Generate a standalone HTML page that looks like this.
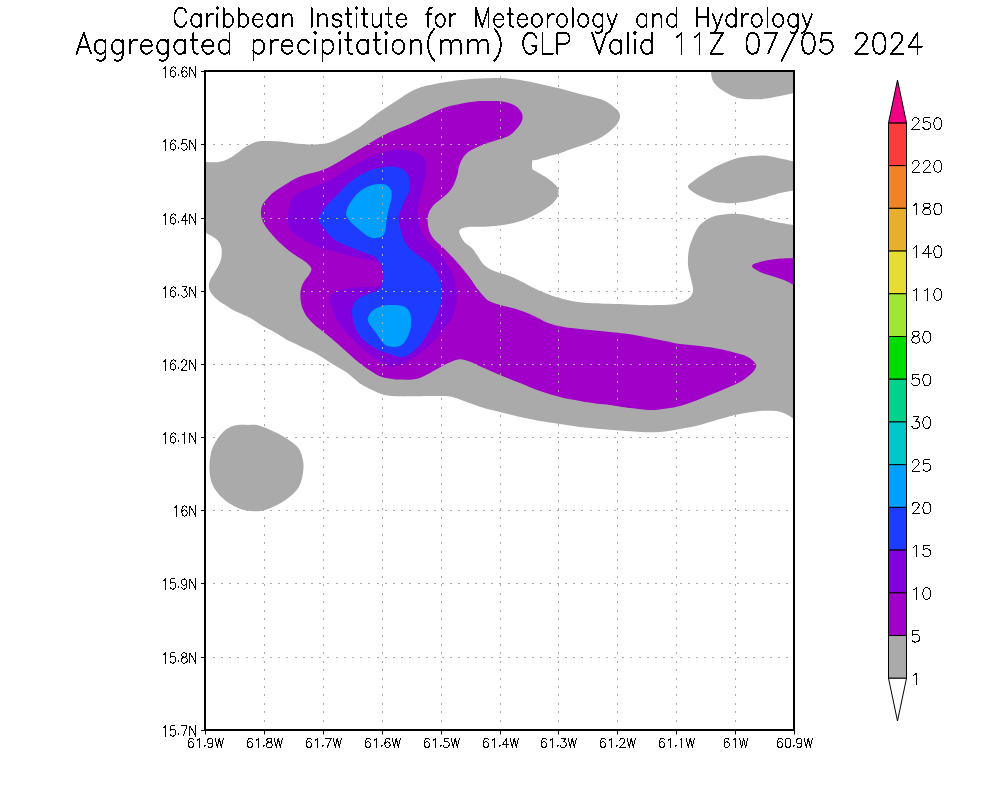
<!DOCTYPE html><html><head><meta charset="utf-8"><style>html,body{margin:0;padding:0;background:#fff;font-family:"Liberation Sans",sans-serif;}svg{display:block;}</style></head><body><svg width="1000" height="800" viewBox="0 0 1000 800">
<rect width="1000" height="800" fill="#fff"/>
<defs><clipPath id="pc"><rect x="205" y="71" width="589" height="659"/></clipPath></defs>
<g clip-path="url(#pc)">
<path d="M198.0,162.0 C198.0,162.0 200.5,162.0 204.0,162.0 C207.5,162.0 214.7,162.7 219.0,162.0 C223.3,161.3 226.5,159.8 230.0,158.0 C233.5,156.2 237.2,153.0 240.0,151.0 C242.8,149.0 244.5,147.4 247.0,146.0 C249.5,144.6 252.7,143.1 255.0,142.3 C257.3,141.5 258.5,141.3 261.0,141.1 C263.5,140.9 266.8,141.0 270.0,141.1 C273.2,141.2 276.7,141.2 280.0,141.5 C283.3,141.8 285.7,142.2 290.0,142.7 C294.3,143.2 301.1,144.1 305.8,144.3 C310.5,144.6 314.0,144.5 318.0,144.2 C322.0,143.9 326.0,143.6 330.0,142.4 C334.0,141.2 338.0,139.0 342.0,137.0 C346.0,135.0 351.0,132.1 354.0,130.4 C357.0,128.7 357.3,128.9 360.0,127.0 C362.7,125.1 366.7,121.6 370.0,119.0 C373.3,116.4 376.7,113.8 380.0,111.5 C383.3,109.2 386.7,107.2 390.0,105.0 C393.3,102.8 396.7,100.7 400.0,98.5 C403.3,96.3 406.7,93.8 410.0,92.0 C413.3,90.2 416.7,88.7 420.0,87.5 C423.3,86.3 426.7,85.8 430.0,85.0 C433.3,84.2 436.7,83.6 440.0,83.0 C443.3,82.4 446.7,82.0 450.0,81.5 C453.3,81.0 455.0,80.5 460.0,80.0 C465.0,79.5 473.3,78.7 480.0,78.4 C486.7,78.1 493.3,77.7 500.0,78.0 C506.7,78.3 513.3,79.0 520.0,80.0 C526.7,81.0 533.3,82.6 540.0,84.0 C546.7,85.4 553.3,86.9 560.0,88.6 C566.7,90.3 573.3,92.3 580.0,94.0 C586.7,95.7 595.0,97.3 600.0,99.0 C605.0,100.7 607.0,102.0 610.0,104.0 C613.0,106.0 616.3,108.8 618.0,111.0 C619.7,113.2 620.2,114.8 620.0,117.0 C619.8,119.2 618.7,121.7 617.0,124.0 C615.3,126.3 612.8,128.7 610.0,131.0 C607.2,133.3 604.2,135.8 600.0,138.0 C595.8,140.2 590.0,142.6 585.0,144.5 C580.0,146.4 574.3,147.9 570.0,149.4 C565.7,150.9 562.3,152.4 559.0,153.5 C555.7,154.6 552.8,155.1 550.0,155.8 C547.2,156.6 544.7,157.3 542.5,158.0 C540.3,158.7 538.7,159.4 537.0,159.8 C535.3,160.2 532.4,160.3 532.4,160.3 C532.4,160.3 532.0,163.4 532.0,165.0 C532.0,166.6 532.4,169.6 532.4,169.6 C532.4,169.6 536.5,171.7 538.8,173.0 C541.1,174.3 544.0,176.0 546.3,177.5 C548.5,179.0 550.5,180.4 552.3,182.0 C554.1,183.6 556.2,185.4 557.3,187.0 C558.3,188.6 558.6,189.8 558.6,191.5 C558.6,193.2 558.4,195.2 557.5,197.0 C556.6,198.8 555.1,200.8 553.5,202.5 C551.9,204.2 551.1,204.9 548.0,207.0 C544.9,209.1 539.8,212.6 535.0,215.0 C530.2,217.4 524.8,219.8 519.0,221.6 C513.2,223.4 505.8,224.8 500.0,225.6 C494.2,226.4 489.3,226.5 484.0,226.7 C478.7,226.9 472.0,226.5 468.0,227.0 C464.0,227.5 461.3,228.4 460.0,229.6 C458.7,230.8 459.2,232.3 460.0,234.4 C460.8,236.5 462.8,240.1 464.8,242.4 C466.8,244.7 469.6,245.4 472.0,248.0 C474.4,250.6 477.0,255.2 479.0,258.0 C481.0,260.8 481.5,262.8 484.0,265.0 C486.5,267.2 489.3,269.0 494.0,271.0 C498.7,273.0 506.3,274.7 512.0,277.0 C517.7,279.3 523.3,282.7 528.0,285.0 C532.7,287.3 535.3,289.0 540.0,291.0 C544.7,293.0 550.7,295.3 556.0,297.0 C561.3,298.7 566.7,300.0 572.0,301.0 C577.3,302.0 583.3,302.6 588.0,303.0 C592.7,303.4 594.7,303.2 600.0,303.4 C605.3,303.6 613.3,303.7 620.0,304.0 C626.7,304.3 633.3,304.8 640.0,305.0 C646.7,305.2 654.0,305.2 660.0,305.0 C666.0,304.8 671.3,305.0 676.0,304.0 C680.7,303.0 685.2,301.2 688.0,299.0 C690.8,296.8 692.5,294.3 693.0,291.0 C693.5,287.7 691.8,283.3 691.0,279.0 C690.2,274.7 688.3,270.0 688.0,265.0 C687.7,260.0 688.0,254.0 689.0,249.0 C690.0,244.0 692.2,239.0 694.0,235.0 C695.8,231.0 697.0,228.0 700.0,225.0 C703.0,222.0 707.3,218.8 712.0,217.0 C716.7,215.2 722.7,214.4 728.0,214.0 C733.3,213.6 738.7,213.9 744.0,214.6 C749.3,215.3 754.7,216.8 760.0,218.0 C765.3,219.2 770.3,220.8 776.0,222.0 C781.7,223.2 790.0,224.5 794.0,225.0 C798.0,225.5 800.0,225.0 800.0,225.0 L800.0,420.0 C800.0,420.0 796.3,420.0 794.0,419.0 C791.7,418.0 789.0,415.3 786.0,414.0 C783.0,412.7 780.3,411.5 776.0,411.0 C771.7,410.5 766.0,410.5 760.0,411.0 C754.0,411.5 746.7,412.7 740.0,414.0 C733.3,415.3 726.7,417.2 720.0,419.0 C713.3,420.8 706.7,423.3 700.0,425.0 C693.3,426.7 686.7,427.8 680.0,429.0 C673.3,430.2 666.7,431.5 660.0,432.0 C653.3,432.5 646.7,432.2 640.0,432.0 C633.3,431.8 626.7,431.1 620.0,430.6 C613.3,430.1 606.7,429.6 600.0,429.0 C593.3,428.4 586.7,427.8 580.0,427.0 C573.3,426.2 566.7,425.0 560.0,424.0 C553.3,423.0 546.7,422.2 540.0,421.0 C533.3,419.8 526.7,418.5 520.0,417.0 C513.3,415.5 506.0,413.5 500.0,412.0 C494.0,410.5 490.0,409.8 484.0,408.0 C478.0,406.2 469.7,402.9 464.0,401.0 C458.3,399.1 454.7,397.4 450.0,396.6 C445.3,395.8 442.7,396.1 436.0,396.0 C429.3,395.9 416.0,396.2 410.0,396.3 C404.0,396.4 404.0,396.5 400.0,396.3 C396.0,396.1 389.7,395.8 386.0,395.2 C382.3,394.6 382.0,394.5 378.0,392.8 C374.0,391.1 366.0,387.2 362.0,384.8 C358.0,382.4 356.7,380.5 354.0,378.4 C351.3,376.3 350.0,374.7 346.0,372.0 C342.0,369.3 335.3,365.6 330.0,362.4 C324.7,359.2 318.3,355.0 314.0,352.6 C309.7,350.2 307.0,349.4 304.0,348.0 C301.0,346.6 298.7,345.3 296.0,344.0 C293.3,342.7 290.7,341.8 288.0,340.4 C285.3,339.0 282.7,337.2 280.0,335.6 C277.3,334.0 274.7,332.3 272.0,330.8 C269.3,329.3 266.7,328.3 264.0,326.8 C261.3,325.3 258.7,323.3 256.0,321.6 C253.3,319.9 250.7,318.2 248.0,316.8 C245.3,315.4 242.7,314.4 240.0,313.2 C237.3,312.0 234.6,310.9 232.0,309.5 C229.4,308.1 227.1,306.4 224.4,304.6 C221.7,302.8 218.3,300.6 216.0,298.5 C213.7,296.4 211.7,294.1 210.5,292.0 C209.3,289.9 209.0,288.0 208.9,286.0 C208.8,284.0 209.3,282.2 210.2,280.0 C211.1,277.8 212.9,275.2 214.5,272.5 C216.1,269.8 218.3,266.2 219.5,263.5 C220.7,260.8 221.2,259.0 221.5,256.5 C221.8,254.0 222.0,251.0 221.5,248.5 C221.0,246.0 220.0,243.5 218.5,241.5 C217.0,239.5 214.9,238.0 212.5,236.5 C210.1,235.0 206.4,233.3 204.0,232.5 C201.6,231.7 198.0,231.9 198.0,231.9 L198.0,162.0Z" fill="#aaaaaa"/>
<path d="M711.0,65.0 C711.0,65.0 710.8,68.5 711.0,71.0 C711.2,73.5 711.3,77.3 712.5,80.0 C713.7,82.7 715.9,85.0 718.0,87.0 C720.1,89.0 722.2,90.3 725.0,92.0 C727.8,93.7 731.7,95.8 735.0,97.0 C738.3,98.2 740.8,98.6 745.0,99.0 C749.2,99.4 755.8,99.4 760.0,99.2 C764.2,99.0 766.7,98.5 770.0,98.0 C773.3,97.5 776.0,96.8 780.0,96.0 C784.0,95.2 790.7,93.7 794.0,93.0 C797.3,92.3 800.0,92.0 800.0,92.0 L800.0,65.0 L711.0,65.0Z" fill="#aaaaaa"/>
<path d="M688.0,187.0 C687.6,185.2 689.3,184.4 692.0,182.2 C694.7,180.0 700.0,176.4 704.0,173.8 C708.0,171.2 712.0,168.7 716.0,166.6 C720.0,164.5 724.0,162.7 728.0,161.2 C732.0,159.7 736.0,158.5 740.0,157.6 C744.0,156.7 748.0,156.3 752.0,156.0 C756.0,155.7 760.0,155.3 764.0,155.6 C768.0,155.9 771.0,156.6 776.0,157.6 C781.0,158.6 790.0,160.8 794.0,161.5 C798.0,162.2 800.0,162.0 800.0,162.0 L800.0,191.0 C800.0,191.0 798.0,190.1 794.0,190.6 C790.0,191.1 781.0,193.0 776.0,194.2 C771.0,195.4 768.0,196.7 764.0,197.8 C760.0,198.9 756.0,200.0 752.0,200.8 C748.0,201.6 744.0,202.0 740.0,202.4 C736.0,202.8 732.0,203.3 728.0,203.2 C724.0,203.1 720.0,202.9 716.0,202.0 C712.0,201.1 707.6,199.3 704.0,197.8 C700.4,196.3 697.1,194.8 694.4,193.0 C691.7,191.2 688.4,188.8 688.0,187.0Z" fill="#aaaaaa"/>
<path d="M236.0,425.3 C239.4,424.7 244.3,424.9 248.0,424.9 C251.7,424.9 254.5,424.5 258.0,425.2 C261.5,425.9 264.7,427.5 268.8,429.3 C272.9,431.1 277.9,433.2 282.5,436.0 C287.1,438.8 293.1,442.6 296.3,445.8 C299.5,449.0 300.6,451.5 301.8,455.4 C303.0,459.3 303.9,463.8 303.4,469.0 C302.9,474.2 302.0,481.6 299.0,486.8 C296.0,492.0 290.8,496.2 285.5,500.0 C280.2,503.8 272.8,507.4 267.5,509.3 C262.2,511.2 258.9,511.5 254.0,511.3 C249.1,511.1 243.2,510.2 238.0,508.0 C232.8,505.8 226.8,501.9 222.5,498.0 C218.2,494.1 214.6,489.4 212.4,484.5 C210.2,479.6 209.7,474.1 209.5,468.8 C209.3,463.6 210.1,457.3 211.0,453.0 C211.9,448.7 213.4,446.0 215.0,443.0 C216.6,440.0 218.5,437.2 220.6,434.8 C222.7,432.4 224.9,430.2 227.5,428.6 C230.1,427.0 232.6,425.9 236.0,425.3Z" fill="#aaaaaa"/>
<path d="M261.0,214.0 C260.8,211.3 261.2,208.3 262.0,206.0 C262.8,203.7 264.0,202.3 266.0,200.0 C268.0,197.7 270.3,194.8 274.0,192.0 C277.7,189.2 283.7,185.6 288.0,183.0 C292.3,180.4 296.0,178.3 300.0,176.6 C304.0,174.9 308.0,174.2 312.0,173.0 C316.0,171.8 320.0,171.0 324.0,169.4 C328.0,167.8 332.0,165.6 336.0,163.4 C340.0,161.2 344.0,158.6 348.0,156.2 C352.0,153.8 356.3,151.2 360.0,149.0 C363.7,146.8 366.7,145.0 370.0,143.0 C373.3,141.0 376.7,138.8 380.0,137.0 C383.3,135.2 386.7,133.5 390.0,132.0 C393.3,130.5 396.7,129.3 400.0,128.0 C403.3,126.7 406.7,125.5 410.0,124.0 C413.3,122.5 416.7,120.7 420.0,119.0 C423.3,117.3 426.7,115.6 430.0,114.0 C433.3,112.4 436.7,110.8 440.0,109.5 C443.3,108.2 446.7,106.9 450.0,106.0 C453.3,105.1 456.9,104.6 460.0,104.0 C463.1,103.4 465.8,102.8 468.7,102.3 C471.6,101.8 474.6,101.4 477.5,101.2 C480.4,101.0 482.6,101.0 486.2,101.0 C489.8,101.0 495.8,100.9 499.4,101.2 C503.0,101.5 505.3,101.9 508.1,102.7 C510.9,103.5 513.8,104.7 516.0,106.2 C518.2,107.7 520.1,110.1 521.2,111.9 C522.3,113.7 522.6,115.3 522.6,117.1 C522.6,118.8 522.2,120.5 521.2,122.4 C520.2,124.3 518.6,126.5 516.9,128.5 C515.1,130.5 512.9,133.0 510.7,134.6 C508.5,136.2 506.3,137.1 503.7,138.1 C501.1,139.1 497.9,139.8 495.0,140.7 C492.1,141.6 489.1,142.4 486.2,143.4 C483.3,144.4 480.1,145.7 477.5,146.9 C474.9,148.1 472.6,149.1 470.5,150.4 C468.4,151.7 466.7,153.1 465.2,154.7 C463.7,156.3 462.7,158.0 461.7,160.0 C460.7,162.0 459.8,163.8 459.0,166.5 C458.2,169.2 458.2,172.4 457.0,176.0 C455.8,179.6 454.2,184.6 452.0,188.0 C449.8,191.4 447.2,193.5 444.0,196.5 C440.8,199.5 435.5,202.8 432.8,206.0 C430.1,209.2 428.7,212.3 428.0,216.0 C427.3,219.7 427.7,224.3 428.5,228.0 C429.3,231.7 430.7,234.8 433.0,238.0 C435.3,241.2 439.2,243.9 442.4,247.0 C445.6,250.1 449.1,253.7 452.0,256.8 C454.9,259.9 457.7,262.9 460.0,265.6 C462.3,268.3 464.3,270.9 466.0,273.0 C467.7,275.1 468.3,275.7 470.0,278.0 C471.7,280.3 474.7,285.1 476.0,287.0 C477.3,288.9 476.5,287.8 478.0,289.6 C479.5,291.4 483.2,296.0 485.2,298.0 C487.2,300.0 487.5,300.4 490.0,301.6 C492.5,302.8 495.7,303.8 500.0,305.0 C504.3,306.2 510.7,307.3 516.0,309.0 C521.3,310.7 526.7,312.7 532.0,315.0 C537.3,317.3 542.7,321.0 548.0,323.0 C553.3,325.0 558.7,326.0 564.0,327.0 C569.3,328.0 574.0,328.3 580.0,329.0 C586.0,329.7 593.3,330.3 600.0,331.0 C606.7,331.7 613.3,332.2 620.0,333.0 C626.7,333.8 633.3,334.8 640.0,336.0 C646.7,337.2 653.3,338.7 660.0,340.0 C666.7,341.3 673.3,343.0 680.0,344.0 C686.7,345.0 693.3,345.2 700.0,346.0 C706.7,346.8 714.0,347.8 720.0,349.0 C726.0,350.2 731.3,351.7 736.0,353.0 C740.7,354.3 744.8,355.3 748.0,357.0 C751.2,358.7 753.7,361.3 755.0,363.0 C756.3,364.7 756.5,365.3 756.0,367.0 C755.5,368.7 754.7,370.5 752.0,373.0 C749.3,375.5 745.3,379.0 740.0,382.0 C734.7,385.0 726.7,388.2 720.0,391.0 C713.3,393.8 706.7,396.5 700.0,399.0 C693.3,401.5 686.7,404.3 680.0,406.0 C673.3,407.7 665.0,408.7 660.0,409.4 C655.0,410.1 655.0,410.2 650.0,410.0 C645.0,409.8 636.7,408.8 630.0,408.0 C623.3,407.2 615.0,405.7 610.0,405.0 C605.0,404.3 605.0,404.7 600.0,404.0 C595.0,403.3 586.7,402.2 580.0,401.0 C573.3,399.8 566.7,398.7 560.0,397.0 C553.3,395.3 546.7,393.3 540.0,391.0 C533.3,388.7 526.7,385.7 520.0,383.0 C513.3,380.3 506.0,377.5 500.0,375.0 C494.0,372.5 489.3,370.3 484.0,368.0 C478.7,365.7 472.3,362.4 468.0,361.0 C463.7,359.6 462.0,358.7 458.0,359.4 C454.0,360.1 448.7,362.7 444.0,365.0 C439.3,367.3 434.7,370.7 430.0,373.0 C425.3,375.3 421.0,377.9 416.0,379.0 C411.0,380.1 403.7,379.5 400.0,379.5 C396.3,379.5 397.1,379.6 394.0,379.2 C390.9,378.8 385.2,378.3 381.2,376.8 C377.2,375.3 373.7,372.8 370.0,370.4 C366.3,368.0 362.8,365.6 358.8,362.4 C354.8,359.2 350.6,355.3 346.0,351.2 C341.4,347.1 335.6,341.9 331.0,338.0 C326.4,334.1 321.6,330.6 318.4,328.0 C315.2,325.4 314.0,324.4 312.0,322.4 C310.0,320.4 308.0,318.4 306.4,316.0 C304.8,313.6 303.4,310.7 302.4,308.0 C301.4,305.3 300.9,302.8 300.6,300.0 C300.3,297.2 300.1,293.9 300.6,291.0 C301.1,288.1 302.0,285.3 303.5,282.5 C305.0,279.7 308.2,276.4 309.5,274.0 C310.8,271.6 311.9,270.1 311.2,268.0 C310.4,265.9 308.2,264.0 305.0,261.5 C301.8,259.0 296.3,256.2 292.0,253.0 C287.7,249.8 282.8,245.7 279.0,242.0 C275.2,238.3 271.7,234.3 269.0,231.0 C266.3,227.7 264.3,224.8 263.0,222.0 C261.7,219.2 261.2,216.7 261.0,214.0Z" fill="#a000c8"/>
<path d="M752.0,266.0 C752.0,264.3 756.0,263.2 760.0,262.0 C764.0,260.8 770.3,259.7 776.0,259.0 C781.7,258.3 790.0,258.2 794.0,258.0 C798.0,257.8 800.0,258.0 800.0,258.0 L800.0,287.0 C800.0,287.0 796.7,286.2 794.0,285.0 C791.3,283.8 787.7,281.5 784.0,280.0 C780.3,278.5 776.0,277.3 772.0,276.0 C768.0,274.7 763.3,273.7 760.0,272.0 C756.7,270.3 752.0,267.7 752.0,266.0Z" fill="#a000c8"/>
<path d="M288.0,214.0 C288.5,210.0 289.0,203.7 291.0,200.0 C293.0,196.3 295.8,194.3 300.0,192.0 C304.2,189.7 310.7,188.2 316.0,186.0 C321.3,183.8 326.7,181.8 332.0,179.0 C337.3,176.2 342.7,172.2 348.0,169.0 C353.3,165.8 358.7,162.6 364.0,160.0 C369.3,157.4 374.7,155.2 380.0,153.5 C385.3,151.8 390.7,149.8 396.0,149.5 C401.3,149.2 407.5,150.2 412.0,151.4 C416.5,152.7 420.8,154.5 423.2,157.0 C425.6,159.5 426.1,162.9 426.4,166.6 C426.7,170.3 425.6,175.1 424.8,179.4 C424.0,183.7 422.7,187.9 421.6,192.2 C420.5,196.5 418.9,200.7 418.4,205.0 C417.9,209.3 417.9,213.3 418.4,217.8 C418.9,222.3 419.7,227.6 421.6,232.0 C423.5,236.4 427.0,240.4 430.0,244.0 C433.0,247.6 436.6,250.0 439.6,253.6 C442.6,257.2 445.6,261.6 448.0,265.6 C450.4,269.6 452.6,273.2 454.0,277.6 C455.4,282.0 456.1,287.4 456.4,292.0 C456.7,296.6 456.7,300.7 456.0,305.0 C455.3,309.3 454.0,314.2 452.0,318.0 C450.0,321.8 447.0,324.2 444.0,328.0 C441.0,331.8 438.0,336.8 434.0,341.0 C430.0,345.2 424.0,349.8 420.0,353.0 C416.0,356.2 413.3,358.0 410.0,360.0 C406.7,362.0 403.5,364.0 400.0,365.0 C396.5,366.0 393.2,367.2 389.0,366.0 C384.8,364.8 379.5,361.0 375.0,358.0 C370.5,355.0 366.8,352.3 362.0,348.0 C357.2,343.7 350.5,337.3 346.0,332.0 C341.5,326.7 337.7,321.3 335.0,316.0 C332.3,310.7 330.2,304.0 330.0,300.0 C329.8,296.0 330.7,294.0 334.0,292.0 C337.3,290.0 345.0,288.8 350.0,288.0 C355.0,287.2 358.8,287.5 364.0,287.0 C369.2,286.5 377.7,287.8 381.0,285.0 C384.3,282.2 384.5,273.8 384.0,270.0 C383.5,266.2 381.3,263.8 378.0,262.0 C374.7,260.2 370.3,260.5 364.0,259.0 C357.7,257.5 347.7,255.0 340.0,253.0 C332.3,251.0 324.0,249.2 318.0,247.0 C312.0,244.8 308.3,242.5 304.0,240.0 C299.7,237.5 294.7,234.7 292.0,232.0 C289.3,229.3 288.7,227.0 288.0,224.0 C287.3,221.0 287.5,218.0 288.0,214.0Z" fill="#8200dc"/>
<path d="M319.0,218.0 C320.0,215.4 322.6,210.4 325.6,206.6 C328.6,202.8 332.5,199.7 336.8,195.4 C341.1,191.1 346.1,185.0 351.2,181.0 C356.3,177.0 362.1,173.7 367.2,171.4 C372.3,169.1 376.8,168.2 381.6,167.4 C386.4,166.7 392.0,166.2 396.0,166.9 C400.0,167.6 403.3,169.1 405.6,171.4 C407.9,173.8 409.1,177.5 409.6,181.0 C410.1,184.5 409.7,188.7 408.8,192.2 C407.9,195.7 405.6,198.1 404.0,201.8 C402.4,205.5 400.1,211.6 399.2,214.6 C398.3,217.6 398.5,217.1 398.8,220.0 C399.1,222.9 400.0,228.0 401.2,232.0 C402.4,236.0 403.6,240.4 406.0,244.0 C408.4,247.6 412.0,250.6 415.6,253.6 C419.2,256.6 424.2,259.0 427.6,262.0 C431.0,265.0 433.8,268.2 436.0,271.6 C438.2,275.0 439.8,279.0 440.8,282.4 C441.8,285.8 442.0,288.4 442.0,292.0 C442.0,295.6 441.4,300.7 440.8,304.0 C440.2,307.3 440.2,307.8 438.4,312.0 C436.6,316.2 433.1,323.5 430.0,329.0 C426.9,334.5 423.7,340.7 420.0,345.0 C416.3,349.3 411.3,353.0 408.0,355.0 C404.7,357.0 402.3,357.0 400.0,357.0 C397.7,357.0 397.7,356.4 394.0,355.2 C390.3,354.0 383.3,352.4 378.0,349.6 C372.7,346.8 366.0,342.7 362.0,338.4 C358.0,334.1 355.6,329.1 354.0,324.0 C352.4,318.9 351.7,312.2 352.4,308.0 C353.1,303.8 355.1,301.5 358.0,299.0 C360.9,296.5 367.0,294.5 370.0,293.2 C373.0,291.9 374.2,292.0 376.0,291.0 C377.8,290.0 379.6,289.4 380.8,287.2 C382.0,285.0 383.0,280.8 383.2,277.6 C383.4,274.4 383.0,271.2 382.0,268.0 C381.0,264.8 379.2,260.6 377.2,258.4 C375.2,256.2 374.5,256.7 370.0,254.8 C365.5,252.9 355.8,249.4 350.0,247.0 C344.2,244.6 339.3,242.9 335.2,240.2 C331.1,237.5 328.2,233.6 325.6,230.6 C323.0,227.6 320.6,224.1 319.5,222.0 C318.4,219.9 318.0,220.6 319.0,218.0Z" fill="#1e3cff"/>
<path d="M346.0,213.0 C346.2,210.2 348.0,206.3 350.0,203.0 C352.0,199.7 355.0,195.8 358.0,193.0 C361.0,190.2 364.7,188.0 368.0,186.5 C371.3,185.0 375.0,184.2 378.0,184.0 C381.0,183.8 383.8,184.0 386.0,185.0 C388.2,186.0 390.1,187.8 391.0,190.0 C391.9,192.2 391.8,195.0 391.5,198.0 C391.2,201.0 389.8,204.3 389.0,208.0 C388.2,211.7 387.1,216.3 386.5,220.0 C385.9,223.7 386.2,227.2 385.5,230.0 C384.8,232.8 384.2,235.2 382.0,236.5 C379.8,237.8 375.0,238.5 372.0,238.0 C369.0,237.5 366.8,235.5 364.0,233.5 C361.2,231.5 357.6,228.3 355.0,226.0 C352.4,223.7 350.0,221.7 348.5,219.5 C347.0,217.3 345.8,215.8 346.0,213.0Z" fill="#00a0ff"/>
<path d="M368.2,317.0 C368.7,315.6 369.7,313.4 371.0,312.0 C372.3,310.6 373.8,309.6 376.0,308.5 C378.2,307.4 381.3,306.2 384.0,305.6 C386.7,305.0 389.3,305.0 392.0,305.0 C394.7,305.0 397.7,305.0 400.0,305.4 C402.3,305.8 404.3,306.2 406.0,307.5 C407.7,308.8 409.2,310.9 410.0,313.0 C410.8,315.1 411.0,317.0 411.0,320.0 C411.0,323.0 411.2,327.2 410.0,331.0 C408.8,334.8 406.2,340.4 404.0,343.0 C401.8,345.6 399.3,346.2 397.0,346.8 C394.7,347.4 392.2,347.0 390.0,346.5 C387.8,346.0 386.3,346.2 384.0,344.0 C381.7,341.8 378.3,336.2 376.0,333.0 C373.7,329.8 371.4,327.1 370.0,325.0 C368.6,322.9 368.1,321.8 367.8,320.5 C367.5,319.2 367.7,318.4 368.2,317.0Z" fill="#00a0ff"/>
</g>
<path d="M213 144.5h2M221 144.5h2M229 144.5h2M237 144.5h2M246 144.5h2M254 144.5h2M262 144.5h2M270 144.5h2M278 144.5h2M286 144.5h2M295 144.5h2M303 144.5h2M311 144.5h2M319 144.5h2M327 144.5h2M336 144.5h2M344 144.5h2M352 144.5h2M360 144.5h2M368 144.5h2M377 144.5h2M385 144.5h2M393 144.5h2M401 144.5h2M409 144.5h2M418 144.5h2M426 144.5h2M434 144.5h2M442 144.5h2M450 144.5h2M458 144.5h2M467 144.5h2M475 144.5h2M483 144.5h2M491 144.5h2M499 144.5h2M508 144.5h2M516 144.5h2M524 144.5h2M532 144.5h2M540 144.5h2M549 144.5h2M557 144.5h2M565 144.5h2M573 144.5h2M581 144.5h2M590 144.5h2M598 144.5h2M606 144.5h2M614 144.5h2M622 144.5h2M630 144.5h2M639 144.5h2M647 144.5h2M655 144.5h2M663 144.5h2M671 144.5h2M680 144.5h2M688 144.5h2M696 144.5h2M704 144.5h2M712 144.5h2M721 144.5h2M729 144.5h2M737 144.5h2M745 144.5h2M753 144.5h2M762 144.5h2M770 144.5h2M778 144.5h2M786 144.5h2M213 218.5h2M221 218.5h2M229 218.5h2M237 218.5h2M246 218.5h2M254 218.5h2M262 218.5h2M270 218.5h2M278 218.5h2M286 218.5h2M295 218.5h2M303 218.5h2M311 218.5h2M319 218.5h2M327 218.5h2M336 218.5h2M344 218.5h2M352 218.5h2M360 218.5h2M368 218.5h2M377 218.5h2M385 218.5h2M393 218.5h2M401 218.5h2M409 218.5h2M418 218.5h2M426 218.5h2M434 218.5h2M442 218.5h2M450 218.5h2M458 218.5h2M467 218.5h2M475 218.5h2M483 218.5h2M491 218.5h2M499 218.5h2M508 218.5h2M516 218.5h2M524 218.5h2M532 218.5h2M540 218.5h2M549 218.5h2M557 218.5h2M565 218.5h2M573 218.5h2M581 218.5h2M590 218.5h2M598 218.5h2M606 218.5h2M614 218.5h2M622 218.5h2M630 218.5h2M639 218.5h2M647 218.5h2M655 218.5h2M663 218.5h2M671 218.5h2M680 218.5h2M688 218.5h2M696 218.5h2M704 218.5h2M712 218.5h2M721 218.5h2M729 218.5h2M737 218.5h2M745 218.5h2M753 218.5h2M762 218.5h2M770 218.5h2M778 218.5h2M786 218.5h2M213 291.5h2M221 291.5h2M229 291.5h2M237 291.5h2M246 291.5h2M254 291.5h2M262 291.5h2M270 291.5h2M278 291.5h2M286 291.5h2M295 291.5h2M303 291.5h2M311 291.5h2M319 291.5h2M327 291.5h2M336 291.5h2M344 291.5h2M352 291.5h2M360 291.5h2M368 291.5h2M377 291.5h2M385 291.5h2M393 291.5h2M401 291.5h2M409 291.5h2M418 291.5h2M426 291.5h2M434 291.5h2M442 291.5h2M450 291.5h2M458 291.5h2M467 291.5h2M475 291.5h2M483 291.5h2M491 291.5h2M499 291.5h2M508 291.5h2M516 291.5h2M524 291.5h2M532 291.5h2M540 291.5h2M549 291.5h2M557 291.5h2M565 291.5h2M573 291.5h2M581 291.5h2M590 291.5h2M598 291.5h2M606 291.5h2M614 291.5h2M622 291.5h2M630 291.5h2M639 291.5h2M647 291.5h2M655 291.5h2M663 291.5h2M671 291.5h2M680 291.5h2M688 291.5h2M696 291.5h2M704 291.5h2M712 291.5h2M721 291.5h2M729 291.5h2M737 291.5h2M745 291.5h2M753 291.5h2M762 291.5h2M770 291.5h2M778 291.5h2M786 291.5h2M213 364.5h2M221 364.5h2M229 364.5h2M237 364.5h2M246 364.5h2M254 364.5h2M262 364.5h2M270 364.5h2M278 364.5h2M286 364.5h2M295 364.5h2M303 364.5h2M311 364.5h2M319 364.5h2M327 364.5h2M336 364.5h2M344 364.5h2M352 364.5h2M360 364.5h2M368 364.5h2M377 364.5h2M385 364.5h2M393 364.5h2M401 364.5h2M409 364.5h2M418 364.5h2M426 364.5h2M434 364.5h2M442 364.5h2M450 364.5h2M458 364.5h2M467 364.5h2M475 364.5h2M483 364.5h2M491 364.5h2M499 364.5h2M508 364.5h2M516 364.5h2M524 364.5h2M532 364.5h2M540 364.5h2M549 364.5h2M557 364.5h2M565 364.5h2M573 364.5h2M581 364.5h2M590 364.5h2M598 364.5h2M606 364.5h2M614 364.5h2M622 364.5h2M630 364.5h2M639 364.5h2M647 364.5h2M655 364.5h2M663 364.5h2M671 364.5h2M680 364.5h2M688 364.5h2M696 364.5h2M704 364.5h2M712 364.5h2M721 364.5h2M729 364.5h2M737 364.5h2M745 364.5h2M753 364.5h2M762 364.5h2M770 364.5h2M778 364.5h2M786 364.5h2M213 437.5h2M221 437.5h2M229 437.5h2M237 437.5h2M246 437.5h2M254 437.5h2M262 437.5h2M270 437.5h2M278 437.5h2M286 437.5h2M295 437.5h2M303 437.5h2M311 437.5h2M319 437.5h2M327 437.5h2M336 437.5h2M344 437.5h2M352 437.5h2M360 437.5h2M368 437.5h2M377 437.5h2M385 437.5h2M393 437.5h2M401 437.5h2M409 437.5h2M418 437.5h2M426 437.5h2M434 437.5h2M442 437.5h2M450 437.5h2M458 437.5h2M467 437.5h2M475 437.5h2M483 437.5h2M491 437.5h2M499 437.5h2M508 437.5h2M516 437.5h2M524 437.5h2M532 437.5h2M540 437.5h2M549 437.5h2M557 437.5h2M565 437.5h2M573 437.5h2M581 437.5h2M590 437.5h2M598 437.5h2M606 437.5h2M614 437.5h2M622 437.5h2M630 437.5h2M639 437.5h2M647 437.5h2M655 437.5h2M663 437.5h2M671 437.5h2M680 437.5h2M688 437.5h2M696 437.5h2M704 437.5h2M712 437.5h2M721 437.5h2M729 437.5h2M737 437.5h2M745 437.5h2M753 437.5h2M762 437.5h2M770 437.5h2M778 437.5h2M786 437.5h2M213 510.5h2M221 510.5h2M229 510.5h2M237 510.5h2M246 510.5h2M254 510.5h2M262 510.5h2M270 510.5h2M278 510.5h2M286 510.5h2M295 510.5h2M303 510.5h2M311 510.5h2M319 510.5h2M327 510.5h2M336 510.5h2M344 510.5h2M352 510.5h2M360 510.5h2M368 510.5h2M377 510.5h2M385 510.5h2M393 510.5h2M401 510.5h2M409 510.5h2M418 510.5h2M426 510.5h2M434 510.5h2M442 510.5h2M450 510.5h2M458 510.5h2M467 510.5h2M475 510.5h2M483 510.5h2M491 510.5h2M499 510.5h2M508 510.5h2M516 510.5h2M524 510.5h2M532 510.5h2M540 510.5h2M549 510.5h2M557 510.5h2M565 510.5h2M573 510.5h2M581 510.5h2M590 510.5h2M598 510.5h2M606 510.5h2M614 510.5h2M622 510.5h2M630 510.5h2M639 510.5h2M647 510.5h2M655 510.5h2M663 510.5h2M671 510.5h2M680 510.5h2M688 510.5h2M696 510.5h2M704 510.5h2M712 510.5h2M721 510.5h2M729 510.5h2M737 510.5h2M745 510.5h2M753 510.5h2M762 510.5h2M770 510.5h2M778 510.5h2M786 510.5h2M213 583.5h2M221 583.5h2M229 583.5h2M237 583.5h2M246 583.5h2M254 583.5h2M262 583.5h2M270 583.5h2M278 583.5h2M286 583.5h2M295 583.5h2M303 583.5h2M311 583.5h2M319 583.5h2M327 583.5h2M336 583.5h2M344 583.5h2M352 583.5h2M360 583.5h2M368 583.5h2M377 583.5h2M385 583.5h2M393 583.5h2M401 583.5h2M409 583.5h2M418 583.5h2M426 583.5h2M434 583.5h2M442 583.5h2M450 583.5h2M458 583.5h2M467 583.5h2M475 583.5h2M483 583.5h2M491 583.5h2M499 583.5h2M508 583.5h2M516 583.5h2M524 583.5h2M532 583.5h2M540 583.5h2M549 583.5h2M557 583.5h2M565 583.5h2M573 583.5h2M581 583.5h2M590 583.5h2M598 583.5h2M606 583.5h2M614 583.5h2M622 583.5h2M630 583.5h2M639 583.5h2M647 583.5h2M655 583.5h2M663 583.5h2M671 583.5h2M680 583.5h2M688 583.5h2M696 583.5h2M704 583.5h2M712 583.5h2M721 583.5h2M729 583.5h2M737 583.5h2M745 583.5h2M753 583.5h2M762 583.5h2M770 583.5h2M778 583.5h2M786 583.5h2M213 657.5h2M221 657.5h2M229 657.5h2M237 657.5h2M246 657.5h2M254 657.5h2M262 657.5h2M270 657.5h2M278 657.5h2M286 657.5h2M295 657.5h2M303 657.5h2M311 657.5h2M319 657.5h2M327 657.5h2M336 657.5h2M344 657.5h2M352 657.5h2M360 657.5h2M368 657.5h2M377 657.5h2M385 657.5h2M393 657.5h2M401 657.5h2M409 657.5h2M418 657.5h2M426 657.5h2M434 657.5h2M442 657.5h2M450 657.5h2M458 657.5h2M467 657.5h2M475 657.5h2M483 657.5h2M491 657.5h2M499 657.5h2M508 657.5h2M516 657.5h2M524 657.5h2M532 657.5h2M540 657.5h2M549 657.5h2M557 657.5h2M565 657.5h2M573 657.5h2M581 657.5h2M590 657.5h2M598 657.5h2M606 657.5h2M614 657.5h2M622 657.5h2M630 657.5h2M639 657.5h2M647 657.5h2M655 657.5h2M663 657.5h2M671 657.5h2M680 657.5h2M688 657.5h2M696 657.5h2M704 657.5h2M712 657.5h2M721 657.5h2M729 657.5h2M737 657.5h2M745 657.5h2M753 657.5h2M762 657.5h2M770 657.5h2M778 657.5h2M786 657.5h2M264.5 76v2M264.5 85v2M264.5 93v2M264.5 102v2M264.5 110v2M264.5 119v2M264.5 127v2M264.5 136v2M264.5 144v2M264.5 153v2M264.5 161v2M264.5 170v2M264.5 178v2M264.5 187v2M264.5 195v2M264.5 203v2M264.5 212v2M264.5 220v2M264.5 229v2M264.5 237v2M264.5 246v2M264.5 254v2M264.5 263v2M264.5 271v2M264.5 280v2M264.5 288v2M264.5 297v2M264.5 305v2M264.5 314v2M264.5 322v2M264.5 330v2M264.5 339v2M264.5 347v2M264.5 356v2M264.5 364v2M264.5 373v2M264.5 381v2M264.5 390v2M264.5 398v2M264.5 407v2M264.5 415v2M264.5 424v2M264.5 432v2M264.5 441v2M264.5 449v2M264.5 457v2M264.5 466v2M264.5 474v2M264.5 483v2M264.5 491v2M264.5 500v2M264.5 508v2M264.5 517v2M264.5 525v2M264.5 534v2M264.5 542v2M264.5 551v2M264.5 559v2M264.5 567v2M264.5 576v2M264.5 584v2M264.5 593v2M264.5 601v2M264.5 610v2M264.5 618v2M264.5 627v2M264.5 635v2M264.5 644v2M264.5 652v2M264.5 661v2M264.5 669v2M264.5 678v2M264.5 686v2M264.5 694v2M264.5 703v2M264.5 711v2M264.5 720v2M323.5 76v2M323.5 85v2M323.5 93v2M323.5 102v2M323.5 110v2M323.5 119v2M323.5 127v2M323.5 136v2M323.5 144v2M323.5 153v2M323.5 161v2M323.5 170v2M323.5 178v2M323.5 187v2M323.5 195v2M323.5 203v2M323.5 212v2M323.5 220v2M323.5 229v2M323.5 237v2M323.5 246v2M323.5 254v2M323.5 263v2M323.5 271v2M323.5 280v2M323.5 288v2M323.5 297v2M323.5 305v2M323.5 314v2M323.5 322v2M323.5 330v2M323.5 339v2M323.5 347v2M323.5 356v2M323.5 364v2M323.5 373v2M323.5 381v2M323.5 390v2M323.5 398v2M323.5 407v2M323.5 415v2M323.5 424v2M323.5 432v2M323.5 441v2M323.5 449v2M323.5 457v2M323.5 466v2M323.5 474v2M323.5 483v2M323.5 491v2M323.5 500v2M323.5 508v2M323.5 517v2M323.5 525v2M323.5 534v2M323.5 542v2M323.5 551v2M323.5 559v2M323.5 567v2M323.5 576v2M323.5 584v2M323.5 593v2M323.5 601v2M323.5 610v2M323.5 618v2M323.5 627v2M323.5 635v2M323.5 644v2M323.5 652v2M323.5 661v2M323.5 669v2M323.5 678v2M323.5 686v2M323.5 694v2M323.5 703v2M323.5 711v2M323.5 720v2M382.5 76v2M382.5 85v2M382.5 93v2M382.5 102v2M382.5 110v2M382.5 119v2M382.5 127v2M382.5 136v2M382.5 144v2M382.5 153v2M382.5 161v2M382.5 170v2M382.5 178v2M382.5 187v2M382.5 195v2M382.5 203v2M382.5 212v2M382.5 220v2M382.5 229v2M382.5 237v2M382.5 246v2M382.5 254v2M382.5 263v2M382.5 271v2M382.5 280v2M382.5 288v2M382.5 297v2M382.5 305v2M382.5 314v2M382.5 322v2M382.5 330v2M382.5 339v2M382.5 347v2M382.5 356v2M382.5 364v2M382.5 373v2M382.5 381v2M382.5 390v2M382.5 398v2M382.5 407v2M382.5 415v2M382.5 424v2M382.5 432v2M382.5 441v2M382.5 449v2M382.5 457v2M382.5 466v2M382.5 474v2M382.5 483v2M382.5 491v2M382.5 500v2M382.5 508v2M382.5 517v2M382.5 525v2M382.5 534v2M382.5 542v2M382.5 551v2M382.5 559v2M382.5 567v2M382.5 576v2M382.5 584v2M382.5 593v2M382.5 601v2M382.5 610v2M382.5 618v2M382.5 627v2M382.5 635v2M382.5 644v2M382.5 652v2M382.5 661v2M382.5 669v2M382.5 678v2M382.5 686v2M382.5 694v2M382.5 703v2M382.5 711v2M382.5 720v2M441.5 76v2M441.5 85v2M441.5 93v2M441.5 102v2M441.5 110v2M441.5 119v2M441.5 127v2M441.5 136v2M441.5 144v2M441.5 153v2M441.5 161v2M441.5 170v2M441.5 178v2M441.5 187v2M441.5 195v2M441.5 203v2M441.5 212v2M441.5 220v2M441.5 229v2M441.5 237v2M441.5 246v2M441.5 254v2M441.5 263v2M441.5 271v2M441.5 280v2M441.5 288v2M441.5 297v2M441.5 305v2M441.5 314v2M441.5 322v2M441.5 330v2M441.5 339v2M441.5 347v2M441.5 356v2M441.5 364v2M441.5 373v2M441.5 381v2M441.5 390v2M441.5 398v2M441.5 407v2M441.5 415v2M441.5 424v2M441.5 432v2M441.5 441v2M441.5 449v2M441.5 457v2M441.5 466v2M441.5 474v2M441.5 483v2M441.5 491v2M441.5 500v2M441.5 508v2M441.5 517v2M441.5 525v2M441.5 534v2M441.5 542v2M441.5 551v2M441.5 559v2M441.5 567v2M441.5 576v2M441.5 584v2M441.5 593v2M441.5 601v2M441.5 610v2M441.5 618v2M441.5 627v2M441.5 635v2M441.5 644v2M441.5 652v2M441.5 661v2M441.5 669v2M441.5 678v2M441.5 686v2M441.5 694v2M441.5 703v2M441.5 711v2M441.5 720v2M500.5 76v2M500.5 85v2M500.5 93v2M500.5 102v2M500.5 110v2M500.5 119v2M500.5 127v2M500.5 136v2M500.5 144v2M500.5 153v2M500.5 161v2M500.5 170v2M500.5 178v2M500.5 187v2M500.5 195v2M500.5 203v2M500.5 212v2M500.5 220v2M500.5 229v2M500.5 237v2M500.5 246v2M500.5 254v2M500.5 263v2M500.5 271v2M500.5 280v2M500.5 288v2M500.5 297v2M500.5 305v2M500.5 314v2M500.5 322v2M500.5 330v2M500.5 339v2M500.5 347v2M500.5 356v2M500.5 364v2M500.5 373v2M500.5 381v2M500.5 390v2M500.5 398v2M500.5 407v2M500.5 415v2M500.5 424v2M500.5 432v2M500.5 441v2M500.5 449v2M500.5 457v2M500.5 466v2M500.5 474v2M500.5 483v2M500.5 491v2M500.5 500v2M500.5 508v2M500.5 517v2M500.5 525v2M500.5 534v2M500.5 542v2M500.5 551v2M500.5 559v2M500.5 567v2M500.5 576v2M500.5 584v2M500.5 593v2M500.5 601v2M500.5 610v2M500.5 618v2M500.5 627v2M500.5 635v2M500.5 644v2M500.5 652v2M500.5 661v2M500.5 669v2M500.5 678v2M500.5 686v2M500.5 694v2M500.5 703v2M500.5 711v2M500.5 720v2M558.5 76v2M558.5 85v2M558.5 93v2M558.5 102v2M558.5 110v2M558.5 119v2M558.5 127v2M558.5 136v2M558.5 144v2M558.5 153v2M558.5 161v2M558.5 170v2M558.5 178v2M558.5 187v2M558.5 195v2M558.5 203v2M558.5 212v2M558.5 220v2M558.5 229v2M558.5 237v2M558.5 246v2M558.5 254v2M558.5 263v2M558.5 271v2M558.5 280v2M558.5 288v2M558.5 297v2M558.5 305v2M558.5 314v2M558.5 322v2M558.5 330v2M558.5 339v2M558.5 347v2M558.5 356v2M558.5 364v2M558.5 373v2M558.5 381v2M558.5 390v2M558.5 398v2M558.5 407v2M558.5 415v2M558.5 424v2M558.5 432v2M558.5 441v2M558.5 449v2M558.5 457v2M558.5 466v2M558.5 474v2M558.5 483v2M558.5 491v2M558.5 500v2M558.5 508v2M558.5 517v2M558.5 525v2M558.5 534v2M558.5 542v2M558.5 551v2M558.5 559v2M558.5 567v2M558.5 576v2M558.5 584v2M558.5 593v2M558.5 601v2M558.5 610v2M558.5 618v2M558.5 627v2M558.5 635v2M558.5 644v2M558.5 652v2M558.5 661v2M558.5 669v2M558.5 678v2M558.5 686v2M558.5 694v2M558.5 703v2M558.5 711v2M558.5 720v2M617.5 76v2M617.5 85v2M617.5 93v2M617.5 102v2M617.5 110v2M617.5 119v2M617.5 127v2M617.5 136v2M617.5 144v2M617.5 153v2M617.5 161v2M617.5 170v2M617.5 178v2M617.5 187v2M617.5 195v2M617.5 203v2M617.5 212v2M617.5 220v2M617.5 229v2M617.5 237v2M617.5 246v2M617.5 254v2M617.5 263v2M617.5 271v2M617.5 280v2M617.5 288v2M617.5 297v2M617.5 305v2M617.5 314v2M617.5 322v2M617.5 330v2M617.5 339v2M617.5 347v2M617.5 356v2M617.5 364v2M617.5 373v2M617.5 381v2M617.5 390v2M617.5 398v2M617.5 407v2M617.5 415v2M617.5 424v2M617.5 432v2M617.5 441v2M617.5 449v2M617.5 457v2M617.5 466v2M617.5 474v2M617.5 483v2M617.5 491v2M617.5 500v2M617.5 508v2M617.5 517v2M617.5 525v2M617.5 534v2M617.5 542v2M617.5 551v2M617.5 559v2M617.5 567v2M617.5 576v2M617.5 584v2M617.5 593v2M617.5 601v2M617.5 610v2M617.5 618v2M617.5 627v2M617.5 635v2M617.5 644v2M617.5 652v2M617.5 661v2M617.5 669v2M617.5 678v2M617.5 686v2M617.5 694v2M617.5 703v2M617.5 711v2M617.5 720v2M676.5 76v2M676.5 85v2M676.5 93v2M676.5 102v2M676.5 110v2M676.5 119v2M676.5 127v2M676.5 136v2M676.5 144v2M676.5 153v2M676.5 161v2M676.5 170v2M676.5 178v2M676.5 187v2M676.5 195v2M676.5 203v2M676.5 212v2M676.5 220v2M676.5 229v2M676.5 237v2M676.5 246v2M676.5 254v2M676.5 263v2M676.5 271v2M676.5 280v2M676.5 288v2M676.5 297v2M676.5 305v2M676.5 314v2M676.5 322v2M676.5 330v2M676.5 339v2M676.5 347v2M676.5 356v2M676.5 364v2M676.5 373v2M676.5 381v2M676.5 390v2M676.5 398v2M676.5 407v2M676.5 415v2M676.5 424v2M676.5 432v2M676.5 441v2M676.5 449v2M676.5 457v2M676.5 466v2M676.5 474v2M676.5 483v2M676.5 491v2M676.5 500v2M676.5 508v2M676.5 517v2M676.5 525v2M676.5 534v2M676.5 542v2M676.5 551v2M676.5 559v2M676.5 567v2M676.5 576v2M676.5 584v2M676.5 593v2M676.5 601v2M676.5 610v2M676.5 618v2M676.5 627v2M676.5 635v2M676.5 644v2M676.5 652v2M676.5 661v2M676.5 669v2M676.5 678v2M676.5 686v2M676.5 694v2M676.5 703v2M676.5 711v2M676.5 720v2M735.5 76v2M735.5 85v2M735.5 93v2M735.5 102v2M735.5 110v2M735.5 119v2M735.5 127v2M735.5 136v2M735.5 144v2M735.5 153v2M735.5 161v2M735.5 170v2M735.5 178v2M735.5 187v2M735.5 195v2M735.5 203v2M735.5 212v2M735.5 220v2M735.5 229v2M735.5 237v2M735.5 246v2M735.5 254v2M735.5 263v2M735.5 271v2M735.5 280v2M735.5 288v2M735.5 297v2M735.5 305v2M735.5 314v2M735.5 322v2M735.5 330v2M735.5 339v2M735.5 347v2M735.5 356v2M735.5 364v2M735.5 373v2M735.5 381v2M735.5 390v2M735.5 398v2M735.5 407v2M735.5 415v2M735.5 424v2M735.5 432v2M735.5 441v2M735.5 449v2M735.5 457v2M735.5 466v2M735.5 474v2M735.5 483v2M735.5 491v2M735.5 500v2M735.5 508v2M735.5 517v2M735.5 525v2M735.5 534v2M735.5 542v2M735.5 551v2M735.5 559v2M735.5 567v2M735.5 576v2M735.5 584v2M735.5 593v2M735.5 601v2M735.5 610v2M735.5 618v2M735.5 627v2M735.5 635v2M735.5 644v2M735.5 652v2M735.5 661v2M735.5 669v2M735.5 678v2M735.5 686v2M735.5 694v2M735.5 703v2M735.5 711v2M735.5 720v2" stroke="#aaaaaa" stroke-width="1" fill="none"/>
<rect x="205" y="71" width="589" height="659" fill="none" stroke="#000" stroke-width="2"/>
<path d="M205.5,730 V734.5 M264.5,730 V734.5 M323.5,730 V734.5 M382.5,730 V734.5 M441.5,730 V734.5 M500.5,730 V734.5 M558.5,730 V734.5 M617.5,730 V734.5 M676.5,730 V734.5 M735.5,730 V734.5 M794.5,730 V734.5 M205,71.5 H201 M205,144.5 H201 M205,218.5 H201 M205,291.5 H201 M205,364.5 H201 M205,437.5 H201 M205,510.5 H201 M205,583.5 H201 M205,657.5 H201 M205,730.5 H201" stroke="#000" stroke-width="1" fill="none"/>
<path d="M186.36,12.35 185.56,10.55 183.98,8.75 182.39,7.85 179.21,7.85 177.63,8.75 176.04,10.55 175.24,12.35 174.45,15.05 174.45,19.55 175.24,22.25 176.04,24.05 177.63,25.85 179.21,26.75 182.39,26.75 183.98,25.85 185.56,24.05 186.36,22.25M200.65,14.15 200.65,26.75M200.65,16.85 199.06,15.05 197.47,14.15 195.09,14.15 193.50,15.05 191.92,16.85 191.12,19.55 191.12,21.35 191.92,24.05 193.50,25.85 195.09,26.75 197.47,26.75 199.06,25.85 200.65,24.05M207.00,14.15 207.00,26.75M207.00,19.55 207.79,16.85 209.38,15.05 210.97,14.15 213.35,14.15M216.53,7.85 217.32,8.75 218.12,7.85 217.32,6.95 216.53,7.85M217.32,14.15 217.32,26.75M223.67,7.85 223.67,26.75M223.67,16.85 225.26,15.05 226.85,14.15 229.23,14.15 230.82,15.05 232.41,16.85 233.20,19.55 233.20,21.35 232.41,24.05 230.82,25.85 229.23,26.75 226.85,26.75 225.26,25.85 223.67,24.05M238.76,7.85 238.76,26.75M238.76,16.85 240.35,15.05 241.93,14.15 244.31,14.15 245.90,15.05 247.49,16.85 248.28,19.55 248.28,21.35 247.49,24.05 245.90,25.85 244.31,26.75 241.93,26.75 240.35,25.85 238.76,24.05M253.05,19.55 262.57,19.55 262.57,17.75 261.78,15.95 260.99,15.05 259.40,14.15 257.02,14.15 255.43,15.05 253.84,16.85 253.05,19.55 253.05,21.35 253.84,24.05 255.43,25.85 257.02,26.75 259.40,26.75 260.99,25.85 262.57,24.05M276.87,14.15 276.87,26.75M276.87,16.85 275.28,15.05 273.69,14.15 271.31,14.15 269.72,15.05 268.13,16.85 267.34,19.55 267.34,21.35 268.13,24.05 269.72,25.85 271.31,26.75 273.69,26.75 275.28,25.85 276.87,24.05M283.22,14.15 283.22,26.75M283.22,17.75 285.60,15.05 287.19,14.15 289.57,14.15 291.16,15.05 291.95,17.75 291.95,26.75M311.75,7.85 311.75,26.75M318.14,14.15 318.14,26.75M318.14,17.75 320.54,15.05 322.14,14.15 324.54,14.15 326.13,15.05 326.93,17.75 326.93,26.75M341.32,16.85 340.52,15.05 338.12,14.15 335.72,14.15 333.33,15.05 332.53,16.85 333.33,18.65 334.93,19.55 338.92,20.45 340.52,21.35 341.32,23.15 341.32,24.05 340.52,25.85 338.12,26.75 335.72,26.75 333.33,25.85 332.53,24.05M347.71,7.85 347.71,23.15 348.51,25.85 350.11,26.75 351.71,26.75M345.31,14.15 350.91,14.15M355.70,7.85 356.50,8.75 357.30,7.85 356.50,6.95 355.70,7.85M356.50,14.15 356.50,26.75M363.69,7.85 363.69,23.15 364.49,25.85 366.09,26.75 367.69,26.75M361.30,14.15 366.89,14.15M372.49,14.15 372.49,23.15 373.28,25.85 374.88,26.75 377.28,26.75 378.88,25.85 381.28,23.15M381.28,14.15 381.28,26.75M388.47,7.85 388.47,23.15 389.27,25.85 390.87,26.75 392.46,26.75M386.07,14.15 391.67,14.15M396.46,19.55 406.05,19.55 406.05,17.75 405.25,15.95 404.45,15.05 402.85,14.15 400.46,14.15 398.86,15.05 397.26,16.85 396.46,19.55 396.46,21.35 397.26,24.05 398.86,25.85 400.46,26.75 402.85,26.75 404.45,25.85 406.05,24.05M431.93,7.85 430.48,7.85 429.04,8.75 428.32,11.45 428.32,26.75M426.15,14.15 431.20,14.15M439.15,14.15 437.70,15.05 436.26,16.85 435.54,19.55 435.54,21.35 436.26,24.05 437.70,25.85 439.15,26.75 441.31,26.75 442.75,25.85 444.20,24.05 444.92,21.35 444.92,19.55 444.20,16.85 442.75,15.05 441.31,14.15 439.15,14.15M449.97,14.15 449.97,26.75M449.97,19.55 450.70,16.85 452.14,15.05 453.58,14.15 455.75,14.15M475.85,7.85 475.85,26.75M475.85,7.85 482.15,26.75M488.44,7.85 482.15,26.75M488.44,7.85 488.44,26.75M493.95,19.55 503.40,19.55 503.40,17.75 502.61,15.95 501.83,15.05 500.25,14.15 497.89,14.15 496.32,15.05 494.74,16.85 493.95,19.55 493.95,21.35 494.74,24.05 496.32,25.85 497.89,26.75 500.25,26.75 501.83,25.85 503.40,24.05M509.70,7.85 509.70,23.15 510.48,25.85 512.06,26.75 513.63,26.75M507.34,14.15 512.85,14.15M517.57,19.55 527.01,19.55 527.01,17.75 526.23,15.95 525.44,15.05 523.87,14.15 521.50,14.15 519.93,15.05 518.36,16.85 517.57,19.55 517.57,21.35 518.36,24.05 519.93,25.85 521.50,26.75 523.87,26.75 525.44,25.85 527.01,24.05M535.67,14.15 534.10,15.05 532.52,16.85 531.74,19.55 531.74,21.35 532.52,24.05 534.10,25.85 535.67,26.75 538.03,26.75 539.61,25.85 541.18,24.05 541.97,21.35 541.97,19.55 541.18,16.85 539.61,15.05 538.03,14.15 535.67,14.15M547.48,14.15 547.48,26.75M547.48,19.55 548.27,16.85 549.84,15.05 551.42,14.15 553.78,14.15M560.86,14.15 559.29,15.05 557.71,16.85 556.93,19.55 556.93,21.35 557.71,24.05 559.29,25.85 560.86,26.75 563.22,26.75 564.80,25.85 566.37,24.05 567.16,21.35 567.16,19.55 566.37,16.85 564.80,15.05 563.22,14.15 560.86,14.15M572.67,7.85 572.67,26.75M582.12,14.15 580.54,15.05 578.97,16.85 578.18,19.55 578.18,21.35 578.97,24.05 580.54,25.85 582.12,26.75 584.48,26.75 586.05,25.85 587.63,24.05 588.41,21.35 588.41,19.55 587.63,16.85 586.05,15.05 584.48,14.15 582.12,14.15M602.58,14.15 602.58,28.55 601.79,31.25 601.01,32.15 599.43,33.05 597.07,33.05 595.50,32.15M602.58,16.85 601.01,15.05 599.43,14.15 597.07,14.15 595.50,15.05 593.92,16.85 593.14,19.55 593.14,21.35 593.92,24.05 595.50,25.85 597.07,26.75 599.43,26.75 601.01,25.85 602.58,24.05M607.30,14.15 612.03,26.75M616.75,14.15 612.03,26.75 610.45,30.35 608.88,32.15 607.30,33.05 606.52,33.05M646.35,14.15 646.35,26.75M646.35,16.85 644.77,15.05 643.19,14.15 640.81,14.15 639.23,15.05 637.64,16.85 636.85,19.55 636.85,21.35 637.64,24.05 639.23,25.85 640.81,26.75 643.19,26.75 644.77,25.85 646.35,24.05M652.69,14.15 652.69,26.75M652.69,17.75 655.07,15.05 656.65,14.15 659.03,14.15 660.61,15.05 661.40,17.75 661.40,26.75M676.45,7.85 676.45,26.75M676.45,16.85 674.87,15.05 673.28,14.15 670.91,14.15 669.32,15.05 667.74,16.85 666.95,19.55 666.95,21.35 667.74,24.05 669.32,25.85 670.91,26.75 673.28,26.75 674.87,25.85 676.45,24.05M696.85,7.85 696.85,26.75M707.96,7.85 707.96,26.75M696.85,16.85 707.96,16.85M712.73,14.15 717.49,26.75M722.25,14.15 717.49,26.75 715.90,30.35 714.31,32.15 712.73,33.05 711.93,33.05M735.75,7.85 735.75,26.75M735.75,16.85 734.16,15.05 732.57,14.15 730.19,14.15 728.60,15.05 727.01,16.85 726.22,19.55 726.22,21.35 727.01,24.05 728.60,25.85 730.19,26.75 732.57,26.75 734.16,25.85 735.75,24.05M742.10,14.15 742.10,26.75M742.10,19.55 742.89,16.85 744.48,15.05 746.07,14.15 748.45,14.15M755.59,14.15 754.00,15.05 752.42,16.85 751.62,19.55 751.62,21.35 752.42,24.05 754.00,25.85 755.59,26.75 757.97,26.75 759.56,25.85 761.15,24.05 761.94,21.35 761.94,19.55 761.15,16.85 759.56,15.05 757.97,14.15 755.59,14.15M767.50,7.85 767.50,26.75M777.02,14.15 775.44,15.05 773.85,16.85 773.05,19.55 773.05,21.35 773.85,24.05 775.44,25.85 777.02,26.75 779.40,26.75 780.99,25.85 782.58,24.05 783.37,21.35 783.37,19.55 782.58,16.85 780.99,15.05 779.40,14.15 777.02,14.15M797.66,14.15 797.66,28.55 796.87,31.25 796.07,32.15 794.49,33.05 792.11,33.05 790.52,32.15M797.66,16.85 796.07,15.05 794.49,14.15 792.11,14.15 790.52,15.05 788.93,16.85 788.14,19.55 788.14,21.35 788.93,24.05 790.52,25.85 792.11,26.75 794.49,26.75 796.07,25.85 797.66,24.05M802.42,14.15 807.19,26.75M811.95,14.15 807.19,26.75 805.60,30.35 804.01,32.15 802.42,33.05 801.63,33.05" fill="none" stroke="#000" stroke-width="1.7" stroke-linecap="round" stroke-linejoin="round" shape-rendering="crispEdges"/>
<path d="M83.74,32.90 76.50,53.70M83.74,32.90 90.99,53.70M79.22,46.77 88.27,46.77M105.47,39.83 105.47,55.68 104.57,58.65 103.66,59.64 101.85,60.63 99.13,60.63 97.32,59.64M105.47,42.80 103.66,40.82 101.85,39.83 99.13,39.83 97.32,40.82 95.51,42.80 94.61,45.78 94.61,47.76 95.51,50.73 97.32,52.71 99.13,53.70 101.85,53.70 103.66,52.71 105.47,50.73M122.67,39.83 122.67,55.68 121.77,58.65 120.86,59.64 119.05,60.63 116.33,60.63 114.52,59.64M122.67,42.80 120.86,40.82 119.05,39.83 116.33,39.83 114.52,40.82 112.71,42.80 111.81,45.78 111.81,47.76 112.71,50.73 114.52,52.71 116.33,53.70 119.05,53.70 120.86,52.71 122.67,50.73M129.91,39.83 129.91,53.70M129.91,45.78 130.82,42.80 132.63,40.82 134.44,39.83 137.16,39.83M140.78,45.78 151.64,45.78 151.64,43.80 150.74,41.81 149.83,40.82 148.02,39.83 145.30,39.83 143.49,40.82 141.68,42.80 140.78,45.78 140.78,47.76 141.68,50.73 143.49,52.71 145.30,53.70 148.02,53.70 149.83,52.71 151.64,50.73M167.94,39.83 167.94,55.68 167.03,58.65 166.13,59.64 164.32,60.63 161.60,60.63 159.79,59.64M167.94,42.80 166.13,40.82 164.32,39.83 161.60,39.83 159.79,40.82 157.98,42.80 157.07,45.78 157.07,47.76 157.98,50.73 159.79,52.71 161.60,53.70 164.32,53.70 166.13,52.71 167.94,50.73M185.14,39.83 185.14,53.70M185.14,42.80 183.33,40.82 181.52,39.83 178.80,39.83 176.99,40.82 175.18,42.80 174.28,45.78 174.28,47.76 175.18,50.73 176.99,52.71 178.80,53.70 181.52,53.70 183.33,52.71 185.14,50.73M193.29,32.90 193.29,49.74 194.19,52.71 196.00,53.70 197.81,53.70M190.57,39.83 196.91,39.83M202.34,45.78 213.20,45.78 213.20,43.80 212.30,41.81 211.39,40.82 209.58,39.83 206.87,39.83 205.06,40.82 203.25,42.80 202.34,45.78 202.34,47.76 203.25,50.73 205.06,52.71 206.87,53.70 209.58,53.70 211.39,52.71 213.20,50.73M229.50,32.90 229.50,53.70M229.50,42.80 227.69,40.82 225.88,39.83 223.16,39.83 221.35,40.82 219.54,42.80 218.64,45.78 218.64,47.76 219.54,50.73 221.35,52.71 223.16,53.70 225.88,53.70 227.69,52.71 229.50,50.73M253.40,39.83 253.40,60.63M253.40,42.80 255.22,40.82 257.04,39.83 259.76,39.83 261.58,40.82 263.40,42.80 264.31,45.78 264.31,47.76 263.40,50.73 261.58,52.71 259.76,53.70 257.04,53.70 255.22,52.71 253.40,50.73M270.67,39.83 270.67,53.70M270.67,45.78 271.58,42.80 273.40,40.82 275.22,39.83 277.95,39.83M281.58,45.78 292.50,45.78 292.50,43.80 291.59,41.81 290.68,40.82 288.86,39.83 286.13,39.83 284.31,40.82 282.49,42.80 281.58,45.78 281.58,47.76 282.49,50.73 284.31,52.71 286.13,53.70 288.86,53.70 290.68,52.71 292.50,50.73M308.86,42.80 307.04,40.82 305.22,39.83 302.50,39.83 300.68,40.82 298.86,42.80 297.95,45.78 297.95,47.76 298.86,50.73 300.68,52.71 302.50,53.70 305.22,53.70 307.04,52.71 308.86,50.73M314.32,32.90 315.23,33.89 316.13,32.90 315.23,31.91 314.32,32.90M315.23,39.83 315.23,53.70M322.50,39.83 322.50,60.63M322.50,42.80 324.32,40.82 326.14,39.83 328.86,39.83 330.68,40.82 332.50,42.80 333.41,45.78 333.41,47.76 332.50,50.73 330.68,52.71 328.86,53.70 326.14,53.70 324.32,52.71 322.50,50.73M338.86,32.90 339.77,33.89 340.68,32.90 339.77,31.91 338.86,32.90M339.77,39.83 339.77,53.70M347.96,32.90 347.96,49.74 348.87,52.71 350.68,53.70 352.50,53.70M345.23,39.83 351.59,39.83M367.96,39.83 367.96,53.70M367.96,42.80 366.14,40.82 364.32,39.83 361.59,39.83 359.78,40.82 357.96,42.80 357.05,45.78 357.05,47.76 357.96,50.73 359.78,52.71 361.59,53.70 364.32,53.70 366.14,52.71 367.96,50.73M376.14,32.90 376.14,49.74 377.05,52.71 378.87,53.70 380.69,53.70M373.41,39.83 379.78,39.83M385.23,32.90 386.14,33.89 387.05,32.90 386.14,31.91 385.23,32.90M386.14,39.83 386.14,53.70M397.05,39.83 395.23,40.82 393.42,42.80 392.51,45.78 392.51,47.76 393.42,50.73 395.23,52.71 397.05,53.70 399.78,53.70 401.60,52.71 403.42,50.73 404.33,47.76 404.33,45.78 403.42,42.80 401.60,40.82 399.78,39.83 397.05,39.83M410.69,39.83 410.69,53.70M410.69,43.80 413.42,40.82 415.24,39.83 417.96,39.83 419.78,40.82 420.69,43.80 420.69,53.70M434.33,28.94 432.51,30.92 430.69,33.89 428.87,37.85 427.96,42.80 427.96,46.77 428.87,51.72 430.69,55.68 432.51,58.65 434.33,60.63M440.69,39.83 440.69,53.70M440.69,43.80 443.42,40.82 445.24,39.83 447.97,39.83 449.79,40.82 450.69,43.80 450.69,53.70M450.69,43.80 453.42,40.82 455.24,39.83 457.97,39.83 459.79,40.82 460.70,43.80 460.70,53.70M467.97,39.83 467.97,53.70M467.97,43.80 470.70,40.82 472.52,39.83 475.24,39.83 477.06,40.82 477.97,43.80 477.97,53.70M477.97,43.80 480.70,40.82 482.52,39.83 485.24,39.83 487.06,40.82 487.97,43.80 487.97,53.70M494.34,28.94 496.15,30.92 497.97,33.89 499.79,37.85 500.70,42.80 500.70,46.77 499.79,51.72 497.97,55.68 496.15,58.65 494.34,60.63M536.38,37.85 535.50,35.87 533.76,33.89 532.02,32.90 528.53,32.90 526.79,33.89 525.04,35.87 524.17,37.85 523.30,40.82 523.30,45.78 524.17,48.75 525.04,50.73 526.79,52.71 528.53,53.70 532.02,53.70 533.76,52.71 535.50,50.73 536.38,48.75 536.38,45.78M532.02,45.78 536.38,45.78M542.48,32.90 542.48,53.70M542.48,53.70 552.94,53.70M557.30,32.90 557.30,53.70M557.30,32.90 565.14,32.90 567.76,33.89 568.63,34.88 569.50,36.86 569.50,39.83 568.63,41.81 567.76,42.80 565.14,43.80 557.30,43.80M592.10,32.90 599.24,53.70M606.38,32.90 599.24,53.70M620.66,39.83 620.66,53.70M620.66,42.80 618.88,40.82 617.09,39.83 614.41,39.83 612.63,40.82 610.84,42.80 609.95,45.78 609.95,47.76 610.84,50.73 612.63,52.71 614.41,53.70 617.09,53.70 618.88,52.71 620.66,50.73M627.80,32.90 627.80,53.70M634.05,32.90 634.94,33.89 635.83,32.90 634.94,31.91 634.05,32.90M634.94,39.83 634.94,53.70M651.90,32.90 651.90,53.70M651.90,42.80 650.11,40.82 648.33,39.83 645.65,39.83 643.87,40.82 642.08,42.80 641.19,45.78 641.19,47.76 642.08,50.73 643.87,52.71 645.65,53.70 648.33,53.70 650.11,52.71 651.90,50.73M676.90,36.86 678.71,35.87 681.43,32.90 681.43,53.70M695.02,36.86 696.83,35.87 699.55,32.90 699.55,53.70M723.10,32.90 710.42,53.70M710.42,32.90 723.10,32.90M710.42,53.70 723.10,53.70M751.89,32.90 749.19,33.89 747.40,36.86 746.50,41.81 746.50,44.79 747.40,49.74 749.19,52.71 751.89,53.70 753.68,53.70 756.38,52.71 758.17,49.74 759.07,44.79 759.07,41.81 758.17,36.86 756.38,33.89 753.68,32.90 751.89,32.90M777.03,32.90 768.05,53.70M764.46,32.90 777.03,32.90M797.68,28.94 781.52,60.63M807.56,32.90 804.86,33.89 803.07,36.86 802.17,41.81 802.17,44.79 803.07,49.74 804.86,52.71 807.56,53.70 809.35,53.70 812.05,52.71 813.84,49.74 814.74,44.79 814.74,41.81 813.84,36.86 812.05,33.89 809.35,32.90 807.56,32.90M830.90,32.90 821.92,32.90 821.03,41.81 821.92,40.82 824.62,39.83 827.31,39.83 830.01,40.82 831.80,42.80 832.70,45.78 832.70,47.76 831.80,50.73 830.01,52.71 827.31,53.70 824.62,53.70 821.92,52.71 821.03,51.72 820.13,49.74M856.19,37.85 856.19,36.86 857.08,34.88 857.96,33.89 859.74,32.90 863.29,32.90 865.07,33.89 865.96,34.88 866.84,36.86 866.84,38.84 865.96,40.82 864.18,43.80 855.30,53.70 867.73,53.70M878.39,32.90 875.72,33.89 873.95,36.86 873.06,41.81 873.06,44.79 873.95,49.74 875.72,52.71 878.39,53.70 880.16,53.70 882.83,52.71 884.60,49.74 885.49,44.79 885.49,41.81 884.60,36.86 882.83,33.89 880.16,32.90 878.39,32.90M891.71,37.85 891.71,36.86 892.60,34.88 893.48,33.89 895.26,32.90 898.81,32.90 900.59,33.89 901.48,34.88 902.36,36.86 902.36,38.84 901.48,40.82 899.70,43.80 890.82,53.70 903.25,53.70M917.46,32.90 908.58,46.77 921.90,46.77M917.46,32.90 917.46,53.70" fill="none" stroke="#000" stroke-width="1.8" stroke-linecap="round" stroke-linejoin="round" shape-rendering="crispEdges"/>
<path d="M163.20,68.84 164.01,68.35 165.23,66.90 165.23,77.10M175.38,68.35 174.97,67.38 173.75,66.90 172.94,66.90 171.72,67.38 170.91,68.84 170.50,71.27 170.50,73.70 170.91,75.64 171.72,76.62 172.94,77.10 173.35,77.10 174.56,76.62 175.38,75.64 175.78,74.19 175.78,73.70 175.38,72.24 174.56,71.27 173.35,70.78 172.94,70.78 171.72,71.27 170.91,72.24 170.50,73.70M178.62,74.67 178.22,75.16 178.62,75.64 179.03,75.16 178.62,74.67M186.74,68.35 186.34,67.38 185.12,66.90 184.31,66.90 183.09,67.38 182.28,68.84 181.87,71.27 181.87,73.70 182.28,75.64 183.09,76.62 184.31,77.10 184.71,77.10 185.93,76.62 186.74,75.64 187.15,74.19 187.15,73.70 186.74,72.24 185.93,71.27 184.71,70.78 184.31,70.78 183.09,71.27 182.28,72.24 181.87,73.70M189.99,66.90 189.99,77.10M189.99,66.90 195.68,77.10M195.68,66.90 195.68,77.10M163.20,141.84 164.01,141.36 165.23,139.90 165.23,150.10M175.38,141.36 174.97,140.38 173.75,139.90 172.94,139.90 171.72,140.38 170.91,141.84 170.50,144.27 170.50,146.70 170.91,148.65 171.72,149.62 172.94,150.10 173.35,150.10 174.56,149.62 175.38,148.65 175.78,147.19 175.78,146.70 175.38,145.24 174.56,144.27 173.35,143.78 172.94,143.78 171.72,144.27 170.91,145.24 170.50,146.70M178.62,147.67 178.22,148.16 178.62,148.65 179.03,148.16 178.62,147.67M186.34,139.90 182.28,139.90 181.87,144.27 182.28,143.78 183.50,143.30 184.71,143.30 185.93,143.78 186.74,144.76 187.15,146.22 187.15,147.19 186.74,148.65 185.93,149.62 184.71,150.10 183.50,150.10 182.28,149.62 181.87,149.13 181.47,148.16M189.99,139.90 189.99,150.10M189.99,139.90 195.68,150.10M195.68,139.90 195.68,150.10M163.20,215.84 164.01,215.36 165.23,213.90 165.23,224.10M175.38,215.36 174.97,214.38 173.75,213.90 172.94,213.90 171.72,214.38 170.91,215.84 170.50,218.27 170.50,220.70 170.91,222.65 171.72,223.62 172.94,224.10 173.35,224.10 174.56,223.62 175.38,222.65 175.78,221.19 175.78,220.70 175.38,219.24 174.56,218.27 173.35,217.78 172.94,217.78 171.72,218.27 170.91,219.24 170.50,220.70M178.62,221.67 178.22,222.16 178.62,222.65 179.03,222.16 178.62,221.67M185.53,213.90 181.47,220.70 187.56,220.70M185.53,213.90 185.53,224.10M189.99,213.90 189.99,224.10M189.99,213.90 195.68,224.10M195.68,213.90 195.68,224.10M163.20,288.84 164.01,288.36 165.23,286.90 165.23,297.10M175.38,288.36 174.97,287.38 173.75,286.90 172.94,286.90 171.72,287.38 170.91,288.84 170.50,291.27 170.50,293.70 170.91,295.64 171.72,296.62 172.94,297.10 173.35,297.10 174.56,296.62 175.38,295.64 175.78,294.19 175.78,293.70 175.38,292.24 174.56,291.27 173.35,290.79 172.94,290.79 171.72,291.27 170.91,292.24 170.50,293.70M178.62,294.67 178.22,295.16 178.62,295.64 179.03,295.16 178.62,294.67M182.28,286.90 186.74,286.90 184.31,290.79 185.53,290.79 186.34,291.27 186.74,291.76 187.15,293.22 187.15,294.19 186.74,295.64 185.93,296.62 184.71,297.10 183.50,297.10 182.28,296.62 181.87,296.13 181.47,295.16M189.99,286.90 189.99,297.10M189.99,286.90 195.68,297.10M195.68,286.90 195.68,297.10M163.20,361.84 164.01,361.36 165.23,359.90 165.23,370.10M175.38,361.36 174.97,360.38 173.75,359.90 172.94,359.90 171.72,360.38 170.91,361.84 170.50,364.27 170.50,366.70 170.91,368.64 171.72,369.62 172.94,370.10 173.35,370.10 174.56,369.62 175.38,368.64 175.78,367.19 175.78,366.70 175.38,365.24 174.56,364.27 173.35,363.79 172.94,363.79 171.72,364.27 170.91,365.24 170.50,366.70M178.62,367.67 178.22,368.16 178.62,368.64 179.03,368.16 178.62,367.67M181.87,362.33 181.87,361.84 182.28,360.87 182.68,360.38 183.50,359.90 185.12,359.90 185.93,360.38 186.34,360.87 186.74,361.84 186.74,362.81 186.34,363.79 185.53,365.24 181.47,370.10 187.15,370.10M189.99,359.90 189.99,370.10M189.99,359.90 195.68,370.10M195.68,359.90 195.68,370.10M163.20,434.84 164.01,434.36 165.23,432.90 165.23,443.10M175.38,434.36 174.97,433.38 173.75,432.90 172.94,432.90 171.72,433.38 170.91,434.84 170.50,437.27 170.50,439.70 170.91,441.64 171.72,442.62 172.94,443.10 173.35,443.10 174.56,442.62 175.38,441.64 175.78,440.19 175.78,439.70 175.38,438.24 174.56,437.27 173.35,436.79 172.94,436.79 171.72,437.27 170.91,438.24 170.50,439.70M178.62,440.67 178.22,441.16 178.62,441.64 179.03,441.16 178.62,440.67M182.68,434.84 183.50,434.36 184.71,432.90 184.71,443.10M189.99,432.90 189.99,443.10M189.99,432.90 195.68,443.10M195.68,432.90 195.68,443.10M174.56,507.84 175.38,507.35 176.59,505.90 176.59,516.10M186.74,507.35 186.34,506.38 185.12,505.90 184.31,505.90 183.09,506.38 182.28,507.84 181.87,510.27 181.87,512.70 182.28,514.64 183.09,515.62 184.31,516.10 184.71,516.10 185.93,515.62 186.74,514.64 187.15,513.19 187.15,512.70 186.74,511.24 185.93,510.27 184.71,509.78 184.31,509.78 183.09,510.27 182.28,511.24 181.87,512.70M189.99,505.90 189.99,516.10M189.99,505.90 195.68,516.10M195.68,505.90 195.68,516.10M163.20,580.84 164.01,580.35 165.23,578.90 165.23,589.10M174.97,578.90 170.91,578.90 170.50,583.27 170.91,582.78 172.13,582.30 173.35,582.30 174.56,582.78 175.38,583.76 175.78,585.21 175.78,586.19 175.38,587.64 174.56,588.62 173.35,589.10 172.13,589.10 170.91,588.62 170.50,588.13 170.10,587.16M178.62,586.67 178.22,587.16 178.62,587.64 179.03,587.16 178.62,586.67M186.74,582.30 186.34,583.76 185.53,584.73 184.31,585.21 183.90,585.21 182.68,584.73 181.87,583.76 181.47,582.30 181.47,581.81 181.87,580.35 182.68,579.38 183.90,578.90 184.31,578.90 185.53,579.38 186.34,580.35 186.74,582.30 186.74,584.73 186.34,587.16 185.53,588.62 184.31,589.10 183.50,589.10 182.28,588.62 181.87,587.64M189.99,578.90 189.99,589.10M189.99,578.90 195.68,589.10M195.68,578.90 195.68,589.10M163.20,654.84 164.01,654.35 165.23,652.90 165.23,663.10M174.97,652.90 170.91,652.90 170.50,657.27 170.91,656.78 172.13,656.30 173.35,656.30 174.56,656.78 175.38,657.76 175.78,659.21 175.78,660.19 175.38,661.64 174.56,662.62 173.35,663.10 172.13,663.10 170.91,662.62 170.50,662.13 170.10,661.16M178.62,660.67 178.22,661.16 178.62,661.64 179.03,661.16 178.62,660.67M183.50,652.90 182.28,653.38 181.87,654.35 181.87,655.33 182.28,656.30 183.09,656.78 184.71,657.27 185.93,657.76 186.74,658.73 187.15,659.70 187.15,661.16 186.74,662.13 186.34,662.62 185.12,663.10 183.50,663.10 182.28,662.62 181.87,662.13 181.47,661.16 181.47,659.70 181.87,658.73 182.68,657.76 183.90,657.27 185.53,656.78 186.34,656.30 186.74,655.33 186.74,654.35 186.34,653.38 185.12,652.90 183.50,652.90M189.99,652.90 189.99,663.10M189.99,652.90 195.68,663.10M195.68,652.90 195.68,663.10M163.20,727.84 164.01,727.35 165.23,725.90 165.23,736.10M174.97,725.90 170.91,725.90 170.50,730.27 170.91,729.78 172.13,729.30 173.35,729.30 174.56,729.78 175.38,730.76 175.78,732.21 175.78,733.19 175.38,734.64 174.56,735.62 173.35,736.10 172.13,736.10 170.91,735.62 170.50,735.13 170.10,734.16M178.62,733.67 178.22,734.16 178.62,734.64 179.03,734.16 178.62,733.67M187.15,725.90 183.09,736.10M181.47,725.90 187.15,725.90M189.99,725.90 189.99,736.10M189.99,725.90 195.68,736.10M195.68,725.90 195.68,736.10" fill="none" stroke="#000" stroke-width="1.0" stroke-linecap="round" stroke-linejoin="round" shape-rendering="crispEdges"/>
<path d="M193.32,739.62 192.91,738.74 191.70,738.30 190.88,738.30 189.67,738.74 188.85,740.05 188.45,742.24 188.45,744.43 188.85,746.19 189.67,747.06 190.88,747.50 191.29,747.50 192.51,747.06 193.32,746.19 193.73,744.87 193.73,744.43 193.32,743.12 192.51,742.24 191.29,741.81 190.88,741.81 189.67,742.24 188.85,743.12 188.45,744.43M197.38,740.05 198.19,739.62 199.41,738.30 199.41,747.50M204.69,745.31 204.28,745.75 204.69,746.19 205.09,745.75 204.69,745.31M212.81,741.37 212.40,742.68 211.59,743.56 210.37,744.00 209.97,744.00 208.75,743.56 207.94,742.68 207.53,741.37 207.53,740.93 207.94,739.62 208.75,738.74 209.97,738.30 210.37,738.30 211.59,738.74 212.40,739.62 212.81,741.37 212.81,743.56 212.40,745.75 211.59,747.06 210.37,747.50 209.56,747.50 208.34,747.06 207.94,746.19M215.24,738.30 217.27,747.50M219.30,738.30 217.27,747.50M219.30,738.30 221.33,747.50M223.36,738.30 221.33,747.50M252.32,739.62 251.91,738.74 250.70,738.30 249.88,738.30 248.67,738.74 247.85,740.05 247.45,742.24 247.45,744.43 247.85,746.19 248.67,747.06 249.88,747.50 250.29,747.50 251.51,747.06 252.32,746.19 252.73,744.87 252.73,744.43 252.32,743.12 251.51,742.24 250.29,741.81 249.88,741.81 248.67,742.24 247.85,743.12 247.45,744.43M256.38,740.05 257.19,739.62 258.41,738.30 258.41,747.50M263.69,745.31 263.28,745.75 263.69,746.19 264.09,745.75 263.69,745.31M268.56,738.30 267.34,738.74 266.94,739.62 266.94,740.49 267.34,741.37 268.15,741.81 269.78,742.24 271.00,742.68 271.81,743.56 272.21,744.43 272.21,745.75 271.81,746.62 271.40,747.06 270.18,747.50 268.56,747.50 267.34,747.06 266.94,746.62 266.53,745.75 266.53,744.43 266.94,743.56 267.75,742.68 268.97,742.24 270.59,741.81 271.40,741.37 271.81,740.49 271.81,739.62 271.40,738.74 270.18,738.30 268.56,738.30M274.24,738.30 276.27,747.50M278.30,738.30 276.27,747.50M278.30,738.30 280.33,747.50M282.36,738.30 280.33,747.50M311.32,739.62 310.91,738.74 309.70,738.30 308.88,738.30 307.67,738.74 306.85,740.05 306.45,742.24 306.45,744.43 306.85,746.19 307.67,747.06 308.88,747.50 309.29,747.50 310.51,747.06 311.32,746.19 311.73,744.87 311.73,744.43 311.32,743.12 310.51,742.24 309.29,741.81 308.88,741.81 307.67,742.24 306.85,743.12 306.45,744.43M315.38,740.05 316.19,739.62 317.41,738.30 317.41,747.50M322.69,745.31 322.28,745.75 322.69,746.19 323.09,745.75 322.69,745.31M331.21,738.30 327.15,747.50M325.53,738.30 331.21,738.30M333.24,738.30 335.27,747.50M337.30,738.30 335.27,747.50M337.30,738.30 339.33,747.50M341.36,738.30 339.33,747.50M370.32,739.62 369.91,738.74 368.70,738.30 367.88,738.30 366.67,738.74 365.85,740.05 365.45,742.24 365.45,744.43 365.85,746.19 366.67,747.06 367.88,747.50 368.29,747.50 369.51,747.06 370.32,746.19 370.73,744.87 370.73,744.43 370.32,743.12 369.51,742.24 368.29,741.81 367.88,741.81 366.67,742.24 365.85,743.12 365.45,744.43M374.38,740.05 375.19,739.62 376.41,738.30 376.41,747.50M381.69,745.31 381.28,745.75 381.69,746.19 382.09,745.75 381.69,745.31M389.81,739.62 389.40,738.74 388.18,738.30 387.37,738.30 386.15,738.74 385.34,740.05 384.94,742.24 384.94,744.43 385.34,746.19 386.15,747.06 387.37,747.50 387.78,747.50 389.00,747.06 389.81,746.19 390.21,744.87 390.21,744.43 389.81,743.12 389.00,742.24 387.78,741.81 387.37,741.81 386.15,742.24 385.34,743.12 384.94,744.43M392.24,738.30 394.27,747.50M396.30,738.30 394.27,747.50M396.30,738.30 398.33,747.50M400.36,738.30 398.33,747.50M429.32,739.62 428.91,738.74 427.70,738.30 426.88,738.30 425.67,738.74 424.85,740.05 424.45,742.24 424.45,744.43 424.85,746.19 425.67,747.06 426.88,747.50 427.29,747.50 428.51,747.06 429.32,746.19 429.73,744.87 429.73,744.43 429.32,743.12 428.51,742.24 427.29,741.81 426.88,741.81 425.67,742.24 424.85,743.12 424.45,744.43M433.38,740.05 434.19,739.62 435.41,738.30 435.41,747.50M440.69,745.31 440.28,745.75 440.69,746.19 441.09,745.75 440.69,745.31M448.40,738.30 444.34,738.30 443.94,742.24 444.34,741.81 445.56,741.37 446.78,741.37 448.00,741.81 448.81,742.68 449.21,744.00 449.21,744.87 448.81,746.19 448.00,747.06 446.78,747.50 445.56,747.50 444.34,747.06 443.94,746.62 443.53,745.75M451.24,738.30 453.27,747.50M455.30,738.30 453.27,747.50M455.30,738.30 457.33,747.50M459.36,738.30 457.33,747.50M488.32,739.62 487.91,738.74 486.70,738.30 485.88,738.30 484.67,738.74 483.85,740.05 483.45,742.24 483.45,744.43 483.85,746.19 484.67,747.06 485.88,747.50 486.29,747.50 487.51,747.06 488.32,746.19 488.73,744.87 488.73,744.43 488.32,743.12 487.51,742.24 486.29,741.81 485.88,741.81 484.67,742.24 483.85,743.12 483.45,744.43M492.38,740.05 493.19,739.62 494.41,738.30 494.41,747.50M499.69,745.31 499.28,745.75 499.69,746.19 500.09,745.75 499.69,745.31M506.59,738.30 502.53,744.43 508.62,744.43M506.59,738.30 506.59,747.50M510.24,738.30 512.27,747.50M514.30,738.30 512.27,747.50M514.30,738.30 516.33,747.50M518.36,738.30 516.33,747.50M546.32,739.62 545.91,738.74 544.70,738.30 543.88,738.30 542.67,738.74 541.85,740.05 541.45,742.24 541.45,744.43 541.85,746.19 542.67,747.06 543.88,747.50 544.29,747.50 545.51,747.06 546.32,746.19 546.73,744.87 546.73,744.43 546.32,743.12 545.51,742.24 544.29,741.81 543.88,741.81 542.67,742.24 541.85,743.12 541.45,744.43M550.38,740.05 551.19,739.62 552.41,738.30 552.41,747.50M557.69,745.31 557.28,745.75 557.69,746.19 558.09,745.75 557.69,745.31M561.34,738.30 565.81,738.30 563.37,741.81 564.59,741.81 565.40,742.24 565.81,742.68 566.21,744.00 566.21,744.87 565.81,746.19 565.00,747.06 563.78,747.50 562.56,747.50 561.34,747.06 560.94,746.62 560.53,745.75M568.24,738.30 570.27,747.50M572.30,738.30 570.27,747.50M572.30,738.30 574.33,747.50M576.36,738.30 574.33,747.50M605.32,739.62 604.91,738.74 603.70,738.30 602.88,738.30 601.67,738.74 600.85,740.05 600.45,742.24 600.45,744.43 600.85,746.19 601.67,747.06 602.88,747.50 603.29,747.50 604.51,747.06 605.32,746.19 605.73,744.87 605.73,744.43 605.32,743.12 604.51,742.24 603.29,741.81 602.88,741.81 601.67,742.24 600.85,743.12 600.45,744.43M609.38,740.05 610.19,739.62 611.41,738.30 611.41,747.50M616.69,745.31 616.28,745.75 616.69,746.19 617.09,745.75 616.69,745.31M619.94,740.49 619.94,740.05 620.34,739.18 620.75,738.74 621.56,738.30 623.18,738.30 624.00,738.74 624.40,739.18 624.81,740.05 624.81,740.93 624.40,741.81 623.59,743.12 619.53,747.50 625.21,747.50M627.24,738.30 629.27,747.50M631.30,738.30 629.27,747.50M631.30,738.30 633.33,747.50M635.36,738.30 633.33,747.50M664.32,739.62 663.91,738.74 662.70,738.30 661.88,738.30 660.67,738.74 659.85,740.05 659.45,742.24 659.45,744.43 659.85,746.19 660.67,747.06 661.88,747.50 662.29,747.50 663.51,747.06 664.32,746.19 664.73,744.87 664.73,744.43 664.32,743.12 663.51,742.24 662.29,741.81 661.88,741.81 660.67,742.24 659.85,743.12 659.45,744.43M668.38,740.05 669.19,739.62 670.41,738.30 670.41,747.50M675.69,745.31 675.28,745.75 675.69,746.19 676.09,745.75 675.69,745.31M679.75,740.05 680.56,739.62 681.78,738.30 681.78,747.50M686.24,738.30 688.27,747.50M690.30,738.30 688.27,747.50M690.30,738.30 692.33,747.50M694.36,738.30 692.33,747.50M729.00,739.62 728.60,738.74 727.38,738.30 726.57,738.30 725.35,738.74 724.54,740.05 724.13,742.24 724.13,744.43 724.54,746.19 725.35,747.06 726.57,747.50 726.97,747.50 728.19,747.06 729.00,746.19 729.41,744.87 729.41,744.43 729.00,743.12 728.19,742.24 726.97,741.81 726.57,741.81 725.35,742.24 724.54,743.12 724.13,744.43M733.06,740.05 733.88,739.62 735.09,738.30 735.09,747.50M739.56,738.30 741.59,747.50M743.62,738.30 741.59,747.50M743.62,738.30 745.65,747.50M747.68,738.30 745.65,747.50M782.32,739.62 781.91,738.74 780.70,738.30 779.88,738.30 778.67,738.74 777.85,740.05 777.45,742.24 777.45,744.43 777.85,746.19 778.67,747.06 779.88,747.50 780.29,747.50 781.51,747.06 782.32,746.19 782.73,744.87 782.73,744.43 782.32,743.12 781.51,742.24 780.29,741.81 779.88,741.81 778.67,742.24 777.85,743.12 777.45,744.43M787.60,738.30 786.38,738.74 785.57,740.05 785.16,742.24 785.16,743.56 785.57,745.75 786.38,747.06 787.60,747.50 788.41,747.50 789.63,747.06 790.44,745.75 790.85,743.56 790.85,742.24 790.44,740.05 789.63,738.74 788.41,738.30 787.60,738.30M793.69,745.31 793.28,745.75 793.69,746.19 794.09,745.75 793.69,745.31M801.81,741.37 801.40,742.68 800.59,743.56 799.37,744.00 798.97,744.00 797.75,743.56 796.94,742.68 796.53,741.37 796.53,740.93 796.94,739.62 797.75,738.74 798.97,738.30 799.37,738.30 800.59,738.74 801.40,739.62 801.81,741.37 801.81,743.56 801.40,745.75 800.59,747.06 799.37,747.50 798.56,747.50 797.34,747.06 796.94,746.19M804.24,738.30 806.27,747.50M808.30,738.30 806.27,747.50M808.30,738.30 810.33,747.50M812.36,738.30 810.33,747.50" fill="none" stroke="#000" stroke-width="1.0" stroke-linecap="round" stroke-linejoin="round" shape-rendering="crispEdges"/>
<path d="M912.45,120.56 912.45,120.01 913.00,118.91 913.55,118.36 914.65,117.80 916.85,117.80 917.95,118.36 918.50,118.91 919.05,120.01 919.05,121.12 918.50,122.22 917.40,123.88 911.90,129.40 919.60,129.40M929.50,117.80 924.00,117.80 923.45,122.77 924.00,122.22 925.65,121.67 927.30,121.67 928.95,122.22 930.05,123.32 930.60,124.98 930.60,126.08 930.05,127.74 928.95,128.84 927.30,129.40 925.65,129.40 924.00,128.84 923.45,128.29 922.90,127.19M937.20,117.80 935.55,118.36 934.45,120.01 933.90,122.77 933.90,124.43 934.45,127.19 935.55,128.84 937.20,129.40 938.30,129.40 939.95,128.84 941.05,127.19 941.60,124.43 941.60,122.77 941.05,120.01 939.95,118.36 938.30,117.80 937.20,117.80M912.45,163.28 912.45,162.73 913.00,161.63 913.55,161.08 914.65,160.52 916.85,160.52 917.95,161.08 918.50,161.63 919.05,162.73 919.05,163.84 918.50,164.94 917.40,166.60 911.90,172.12 919.60,172.12M923.45,163.28 923.45,162.73 924.00,161.63 924.55,161.08 925.65,160.52 927.85,160.52 928.95,161.08 929.50,161.63 930.05,162.73 930.05,163.84 929.50,164.94 928.40,166.60 922.90,172.12 930.60,172.12M937.20,160.52 935.55,161.08 934.45,162.73 933.90,165.49 933.90,167.15 934.45,169.91 935.55,171.56 937.20,172.12 938.30,172.12 939.95,171.56 941.05,169.91 941.60,167.15 941.60,165.49 941.05,162.73 939.95,161.08 938.30,160.52 937.20,160.52M913.55,205.45 914.65,204.90 916.30,203.24 916.30,214.84M925.65,203.24 924.00,203.80 923.45,204.90 923.45,206.00 924.00,207.11 925.10,207.66 927.30,208.21 928.95,208.76 930.05,209.87 930.60,210.97 930.60,212.63 930.05,213.73 929.50,214.28 927.85,214.84 925.65,214.84 924.00,214.28 923.45,213.73 922.90,212.63 922.90,210.97 923.45,209.87 924.55,208.76 926.20,208.21 928.40,207.66 929.50,207.11 930.05,206.00 930.05,204.90 929.50,203.80 927.85,203.24 925.65,203.24M937.20,203.24 935.55,203.80 934.45,205.45 933.90,208.21 933.90,209.87 934.45,212.63 935.55,214.28 937.20,214.84 938.30,214.84 939.95,214.28 941.05,212.63 941.60,209.87 941.60,208.21 941.05,205.45 939.95,203.80 938.30,203.24 937.20,203.24M913.55,248.17 914.65,247.62 916.30,245.96 916.30,257.56M928.40,245.96 922.90,253.69 931.15,253.69M928.40,245.96 928.40,257.56M937.20,245.96 935.55,246.52 934.45,248.17 933.90,250.93 933.90,252.59 934.45,255.35 935.55,257.00 937.20,257.56 938.30,257.56 939.95,257.00 941.05,255.35 941.60,252.59 941.60,250.93 941.05,248.17 939.95,246.52 938.30,245.96 937.20,245.96M913.55,290.89 914.65,290.34 916.30,288.68 916.30,300.28M924.55,290.89 925.65,290.34 927.30,288.68 927.30,300.28M937.20,288.68 935.55,289.24 934.45,290.89 933.90,293.65 933.90,295.31 934.45,298.07 935.55,299.72 937.20,300.28 938.30,300.28 939.95,299.72 941.05,298.07 941.60,295.31 941.60,293.65 941.05,290.89 939.95,289.24 938.30,288.68 937.20,288.68M914.65,331.40 913.00,331.96 912.45,333.06 912.45,334.16 913.00,335.27 914.10,335.82 916.30,336.37 917.95,336.92 919.05,338.03 919.60,339.13 919.60,340.79 919.05,341.89 918.50,342.44 916.85,343.00 914.65,343.00 913.00,342.44 912.45,341.89 911.90,340.79 911.90,339.13 912.45,338.03 913.55,336.92 915.20,336.37 917.40,335.82 918.50,335.27 919.05,334.16 919.05,333.06 918.50,331.96 916.85,331.40 914.65,331.40M926.20,331.40 924.55,331.96 923.45,333.61 922.90,336.37 922.90,338.03 923.45,340.79 924.55,342.44 926.20,343.00 927.30,343.00 928.95,342.44 930.05,340.79 930.60,338.03 930.60,336.37 930.05,333.61 928.95,331.96 927.30,331.40 926.20,331.40M918.50,374.12 913.00,374.12 912.45,379.09 913.00,378.54 914.65,377.99 916.30,377.99 917.95,378.54 919.05,379.64 919.60,381.30 919.60,382.40 919.05,384.06 917.95,385.16 916.30,385.72 914.65,385.72 913.00,385.16 912.45,384.61 911.90,383.51M926.20,374.12 924.55,374.68 923.45,376.33 922.90,379.09 922.90,380.75 923.45,383.51 924.55,385.16 926.20,385.72 927.30,385.72 928.95,385.16 930.05,383.51 930.60,380.75 930.60,379.09 930.05,376.33 928.95,374.68 927.30,374.12 926.20,374.12M913.00,416.84 919.05,416.84 915.75,421.26 917.40,421.26 918.50,421.81 919.05,422.36 919.60,424.02 919.60,425.12 919.05,426.78 917.95,427.88 916.30,428.44 914.65,428.44 913.00,427.88 912.45,427.33 911.90,426.23M926.20,416.84 924.55,417.40 923.45,419.05 922.90,421.81 922.90,423.47 923.45,426.23 924.55,427.88 926.20,428.44 927.30,428.44 928.95,427.88 930.05,426.23 930.60,423.47 930.60,421.81 930.05,419.05 928.95,417.40 927.30,416.84 926.20,416.84M912.45,462.32 912.45,461.77 913.00,460.67 913.55,460.12 914.65,459.56 916.85,459.56 917.95,460.12 918.50,460.67 919.05,461.77 919.05,462.88 918.50,463.98 917.40,465.64 911.90,471.16 919.60,471.16M929.50,459.56 924.00,459.56 923.45,464.53 924.00,463.98 925.65,463.43 927.30,463.43 928.95,463.98 930.05,465.08 930.60,466.74 930.60,467.84 930.05,469.50 928.95,470.60 927.30,471.16 925.65,471.16 924.00,470.60 923.45,470.05 922.90,468.95M912.45,505.04 912.45,504.49 913.00,503.39 913.55,502.84 914.65,502.28 916.85,502.28 917.95,502.84 918.50,503.39 919.05,504.49 919.05,505.60 918.50,506.70 917.40,508.36 911.90,513.88 919.60,513.88M926.20,502.28 924.55,502.84 923.45,504.49 922.90,507.25 922.90,508.91 923.45,511.67 924.55,513.32 926.20,513.88 927.30,513.88 928.95,513.32 930.05,511.67 930.60,508.91 930.60,507.25 930.05,504.49 928.95,502.84 927.30,502.28 926.20,502.28M913.55,547.21 914.65,546.66 916.30,545.00 916.30,556.60M929.50,545.00 924.00,545.00 923.45,549.97 924.00,549.42 925.65,548.87 927.30,548.87 928.95,549.42 930.05,550.52 930.60,552.18 930.60,553.28 930.05,554.94 928.95,556.04 927.30,556.60 925.65,556.60 924.00,556.04 923.45,555.49 922.90,554.39M913.55,589.93 914.65,589.38 916.30,587.72 916.30,599.32M926.20,587.72 924.55,588.28 923.45,589.93 922.90,592.69 922.90,594.35 923.45,597.11 924.55,598.76 926.20,599.32 927.30,599.32 928.95,598.76 930.05,597.11 930.60,594.35 930.60,592.69 930.05,589.93 928.95,588.28 927.30,587.72 926.20,587.72M918.50,630.44 913.00,630.44 912.45,635.41 913.00,634.86 914.65,634.31 916.30,634.31 917.95,634.86 919.05,635.96 919.60,637.62 919.60,638.72 919.05,640.38 917.95,641.48 916.30,642.04 914.65,642.04 913.00,641.48 912.45,640.93 911.90,639.83M913.55,675.37 914.65,674.82 916.30,673.16 916.30,684.76" fill="none" stroke="#000" stroke-width="1.0" stroke-linecap="round" stroke-linejoin="round" shape-rendering="crispEdges"/>
<rect x="888.5" y="122.90" width="18.0" height="42.72" fill="#fa3c3c" stroke="#000" stroke-width="1"/>
<rect x="888.5" y="165.62" width="18.0" height="42.72" fill="#f08228" stroke="#000" stroke-width="1"/>
<rect x="888.5" y="208.34" width="18.0" height="42.72" fill="#e6af2d" stroke="#000" stroke-width="1"/>
<rect x="888.5" y="251.06" width="18.0" height="42.72" fill="#e6dc32" stroke="#000" stroke-width="1"/>
<rect x="888.5" y="293.78" width="18.0" height="42.72" fill="#a0e632" stroke="#000" stroke-width="1"/>
<rect x="888.5" y="336.50" width="18.0" height="42.72" fill="#00dc00" stroke="#000" stroke-width="1"/>
<rect x="888.5" y="379.22" width="18.0" height="42.72" fill="#00d28c" stroke="#000" stroke-width="1"/>
<rect x="888.5" y="421.94" width="18.0" height="42.72" fill="#00c8c8" stroke="#000" stroke-width="1"/>
<rect x="888.5" y="464.66" width="18.0" height="42.72" fill="#00a0ff" stroke="#000" stroke-width="1"/>
<rect x="888.5" y="507.38" width="18.0" height="42.72" fill="#1e3cff" stroke="#000" stroke-width="1"/>
<rect x="888.5" y="550.10" width="18.0" height="42.72" fill="#8200dc" stroke="#000" stroke-width="1"/>
<rect x="888.5" y="592.82" width="18.0" height="42.72" fill="#a000c8" stroke="#000" stroke-width="1"/>
<rect x="888.5" y="635.54" width="18.0" height="42.72" fill="#aaaaaa" stroke="#000" stroke-width="1"/>
<path d="M888.5,122.9 L897.5,80 L906.5,122.9Z" fill="#f00082" stroke="#000" stroke-width="1"/>
<path d="M888.5,678.26 L897.5,721 L906.5,678.26Z" fill="#fff" stroke="#000" stroke-width="1"/>
</svg></body></html>
